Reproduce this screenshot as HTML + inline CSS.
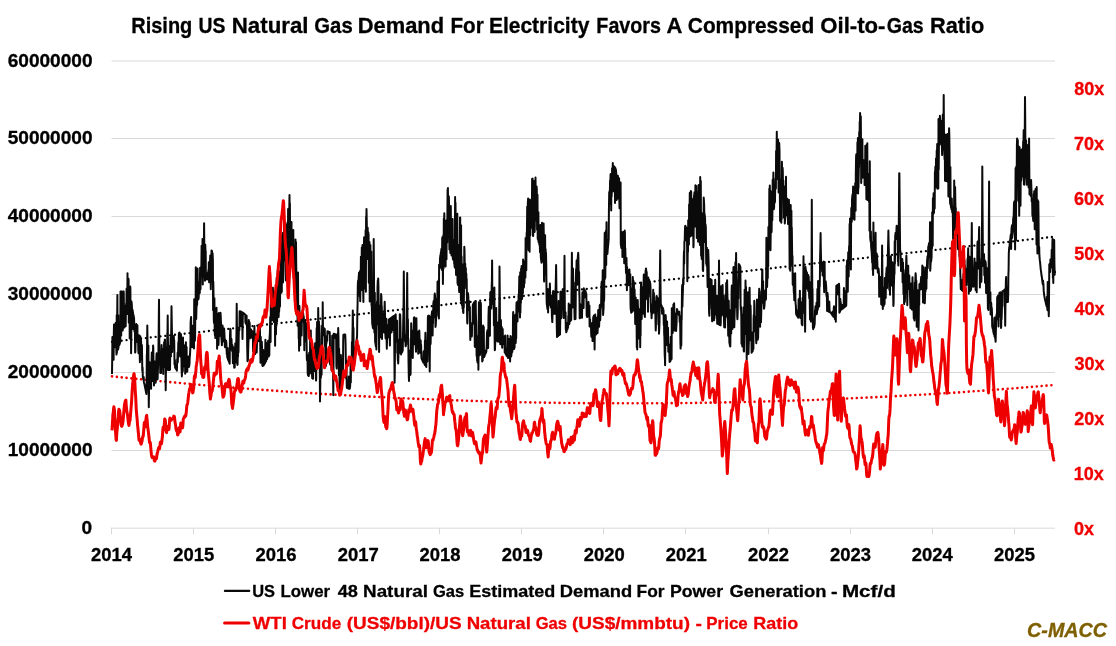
<!DOCTYPE html>
<html><head><meta charset="utf-8"><title>Chart</title>
<style>html,body{margin:0;padding:0;background:#fff}svg{display:block;will-change:transform}</style></head>
<body>
<svg width="1116" height="646" viewBox="0 0 1116 646">
<rect width="1116" height="646" fill="#fff"/>
<line x1="111.5" x2="1055.0" y1="61.0" y2="61.0" stroke="#D9D9D9" stroke-width="1"/>
<line x1="111.5" x2="1055.0" y1="138.5" y2="138.5" stroke="#D9D9D9" stroke-width="1"/>
<line x1="111.5" x2="1055.0" y1="216.5" y2="216.5" stroke="#D9D9D9" stroke-width="1"/>
<line x1="111.5" x2="1055.0" y1="294.5" y2="294.5" stroke="#D9D9D9" stroke-width="1"/>
<line x1="111.5" x2="1055.0" y1="372.5" y2="372.5" stroke="#D9D9D9" stroke-width="1"/>
<line x1="111.5" x2="1055.0" y1="450.5" y2="450.5" stroke="#D9D9D9" stroke-width="1"/>
<line x1="111.5" x2="1055.0" y1="528.2" y2="528.2" stroke="#D9D9D9" stroke-width="1"/>
<line x1="111.5" x2="111.5" y1="527.7" y2="534.3" stroke="#D9D9D9" stroke-width="1"/>
<line x1="193.5" x2="193.5" y1="527.7" y2="534.3" stroke="#D9D9D9" stroke-width="1"/>
<line x1="275.5" x2="275.5" y1="527.7" y2="534.3" stroke="#D9D9D9" stroke-width="1"/>
<line x1="357.5" x2="357.5" y1="527.7" y2="534.3" stroke="#D9D9D9" stroke-width="1"/>
<line x1="439.5" x2="439.5" y1="527.7" y2="534.3" stroke="#D9D9D9" stroke-width="1"/>
<line x1="521.5" x2="521.5" y1="527.7" y2="534.3" stroke="#D9D9D9" stroke-width="1"/>
<line x1="603.5" x2="603.5" y1="527.7" y2="534.3" stroke="#D9D9D9" stroke-width="1"/>
<line x1="685.5" x2="685.5" y1="527.7" y2="534.3" stroke="#D9D9D9" stroke-width="1"/>
<line x1="768.5" x2="768.5" y1="527.7" y2="534.3" stroke="#D9D9D9" stroke-width="1"/>
<line x1="850.5" x2="850.5" y1="527.7" y2="534.3" stroke="#D9D9D9" stroke-width="1"/>
<line x1="932.5" x2="932.5" y1="527.7" y2="534.3" stroke="#D9D9D9" stroke-width="1"/>
<line x1="1014.5" x2="1014.5" y1="527.7" y2="534.3" stroke="#D9D9D9" stroke-width="1"/>
<path d="M112.0 341.8 L118.0 341.1 L124.0 340.5 L130.0 339.8 L136.0 339.1 L142.0 338.5 L148.0 337.8 L154.0 337.1 L160.0 336.4 L166.0 335.8 L172.0 335.1 L178.0 334.4 L184.0 333.8 L190.0 333.1 L196.0 332.4 L202.0 331.8 L208.0 331.1 L214.0 330.4 L220.0 329.8 L226.0 329.1 L232.0 328.4 L238.0 327.8 L244.0 327.1 L250.0 326.4 L256.0 325.7 L262.0 325.1 L268.0 324.4 L274.0 323.7 L280.0 323.1 L286.0 322.4 L292.0 321.7 L298.0 321.1 L304.0 320.4 L310.0 319.7 L316.0 319.1 L322.0 318.4 L328.0 317.7 L334.0 317.0 L340.0 316.4 L346.0 315.7 L352.0 315.0 L358.0 314.4 L364.0 313.7 L370.0 313.0 L376.0 312.4 L382.0 311.7 L388.0 311.0 L394.0 310.4 L400.0 309.7 L406.0 309.0 L412.0 308.4 L418.0 307.7 L424.0 307.0 L430.0 306.3 L436.0 305.7 L442.0 305.0 L448.0 304.3 L454.0 303.7 L460.0 303.0 L466.0 302.3 L472.0 301.7 L478.0 301.0 L484.0 300.3 L490.0 299.7 L496.0 299.0 L502.0 298.3 L508.0 297.6 L514.0 297.0 L520.0 296.3 L526.0 295.6 L532.0 295.0 L538.0 294.3 L544.0 293.6 L550.0 293.0 L556.0 292.3 L562.0 291.6 L568.0 291.0 L574.0 290.3 L580.0 289.6 L586.0 288.9 L592.0 288.3 L598.0 287.6 L604.0 286.9 L610.0 286.3 L616.0 285.6 L622.0 284.9 L628.0 284.3 L634.0 283.6 L640.0 282.9 L646.0 282.3 L652.0 281.6 L658.0 280.9 L664.0 280.3 L670.0 279.6 L676.0 278.9 L682.0 278.2 L688.0 277.6 L694.0 276.9 L700.0 276.2 L706.0 275.6 L712.0 274.9 L718.0 274.2 L724.0 273.6 L730.0 272.9 L736.0 272.2 L742.0 271.6 L748.0 270.9 L754.0 270.2 L760.0 269.5 L766.0 268.9 L772.0 268.2 L778.0 267.5 L784.0 266.9 L790.0 266.2 L796.0 265.5 L802.0 264.9 L808.0 264.2 L814.0 263.5 L820.0 262.9 L826.0 262.2 L832.0 261.5 L838.0 260.9 L844.0 260.2 L850.0 259.5 L856.0 258.8 L862.0 258.2 L868.0 257.5 L874.0 256.8 L880.0 256.2 L886.0 255.5 L892.0 254.8 L898.0 254.2 L904.0 253.5 L910.0 252.8 L916.0 252.2 L922.0 251.5 L928.0 250.8 L934.0 250.1 L940.0 249.5 L946.0 248.8 L952.0 248.1 L958.0 247.5 L964.0 246.8 L970.0 246.1 L976.0 245.5 L982.0 244.8 L988.0 244.1 L994.0 243.5 L1000.0 242.8 L1006.0 242.1 L1012.0 241.4 L1018.0 240.8 L1024.0 240.1 L1030.0 239.4 L1036.0 238.8 L1042.0 238.1 L1048.0 237.4 L1054.0 236.8" fill="none" stroke="#000" stroke-width="2.3" stroke-linejoin="round" stroke-linecap="round" stroke-dasharray="0.01 4.865"/>
<path d="M112.0 376.4 L118.0 377.0 L124.0 377.6 L130.0 378.2 L136.0 378.8 L142.0 379.4 L148.0 380.0 L154.0 380.6 L160.0 381.2 L166.0 381.7 L172.0 382.3 L178.0 382.8 L184.0 383.4 L190.0 383.9 L196.0 384.5 L202.0 385.0 L208.0 385.5 L214.0 386.0 L220.0 386.5 L226.0 387.0 L232.0 387.5 L238.0 387.9 L244.0 388.4 L250.0 388.9 L256.0 389.3 L262.0 389.8 L268.0 390.2 L274.0 390.7 L280.0 391.1 L286.0 391.5 L292.0 391.9 L298.0 392.3 L304.0 392.7 L310.0 393.1 L316.0 393.5 L322.0 393.9 L328.0 394.2 L334.0 394.6 L340.0 394.9 L346.0 395.3 L352.0 395.6 L358.0 396.0 L364.0 396.3 L370.0 396.6 L376.0 396.9 L382.0 397.2 L388.0 397.5 L394.0 397.8 L400.0 398.1 L406.0 398.4 L412.0 398.6 L418.0 398.9 L424.0 399.1 L430.0 399.4 L436.0 399.6 L442.0 399.8 L448.0 400.1 L454.0 400.3 L460.0 400.5 L466.0 400.7 L472.0 400.9 L478.0 401.1 L484.0 401.2 L490.0 401.4 L496.0 401.6 L502.0 401.7 L508.0 401.9 L514.0 402.0 L520.0 402.2 L526.0 402.3 L532.0 402.4 L538.0 402.5 L544.0 402.6 L550.0 402.7 L556.0 402.8 L562.0 402.9 L568.0 403.0 L574.0 403.0 L580.0 403.1 L586.0 403.2 L592.0 403.2 L598.0 403.3 L604.0 403.3 L610.0 403.3 L616.0 403.3 L622.0 403.3 L628.0 403.3 L634.0 403.3 L640.0 403.3 L646.0 403.3 L652.0 403.3 L658.0 403.3 L664.0 403.2 L670.0 403.2 L676.0 403.1 L682.0 403.1 L688.0 403.0 L694.0 402.9 L700.0 402.8 L706.0 402.7 L712.0 402.6 L718.0 402.5 L724.0 402.4 L730.0 402.3 L736.0 402.2 L742.0 402.0 L748.0 401.9 L754.0 401.8 L760.0 401.6 L766.0 401.4 L772.0 401.3 L778.0 401.1 L784.0 400.9 L790.0 400.7 L796.0 400.5 L802.0 400.3 L808.0 400.1 L814.0 399.9 L820.0 399.6 L826.0 399.4 L832.0 399.2 L838.0 398.9 L844.0 398.6 L850.0 398.4 L856.0 398.1 L862.0 397.8 L868.0 397.5 L874.0 397.2 L880.0 396.9 L886.0 396.6 L892.0 396.3 L898.0 396.0 L904.0 395.7 L910.0 395.3 L916.0 395.0 L922.0 394.6 L928.0 394.3 L934.0 393.9 L940.0 393.5 L946.0 393.1 L952.0 392.8 L958.0 392.4 L964.0 392.0 L970.0 391.5 L976.0 391.1 L982.0 390.7 L988.0 390.3 L994.0 389.8 L1000.0 389.4 L1006.0 388.9 L1012.0 388.5 L1018.0 388.0 L1024.0 387.5 L1030.0 387.0 L1036.0 386.5 L1042.0 386.0 L1048.0 385.5 L1054.0 385.0" fill="none" stroke="#EE0000" stroke-width="2.6" stroke-linejoin="round" stroke-linecap="round" stroke-dasharray="0.01 4.865"/>
<path d="M112.0 373.9 L112.2 359.0 L112.4 337.0 L112.7 340.1 L112.9 347.4 L113.1 358.3 L113.3 342.6 L113.6 359.7 L113.8 334.4 L114.0 324.6 L114.2 347.5 L114.5 339.5 L114.7 332.3 L114.9 347.1 L115.1 334.9 L115.4 344.1 L115.6 323.1 L115.8 323.8 L116.0 333.3 L116.3 349.4 L116.5 354.6 L116.7 315.3 L116.9 353.1 L117.2 313.6 L117.4 294.9 L117.6 345.4 L117.8 345.8 L118.1 349.4 L118.3 315.2 L118.5 347.9 L118.7 330.4 L119.0 322.2 L119.2 333.0 L119.4 344.9 L119.6 344.1 L119.9 343.3 L120.1 342.5 L120.3 341.8 L120.5 291.6 L120.8 316.4 L121.0 291.6 L121.2 335.6 L121.4 312.1 L121.7 291.6 L121.9 327.1 L122.1 324.7 L122.3 310.3 L122.6 327.3 L122.8 330.4 L123.0 315.0 L123.2 291.6 L123.5 292.5 L123.7 291.6 L123.9 303.8 L124.1 317.6 L124.4 327.6 L124.6 314.5 L124.8 313.2 L125.0 306.2 L125.3 310.3 L125.5 311.5 L125.7 326.2 L125.9 309.7 L126.2 303.6 L126.4 308.4 L126.6 288.5 L126.8 290.8 L127.1 314.1 L127.3 299.4 L127.5 273.3 L127.7 300.7 L128.0 305.0 L128.2 284.5 L128.4 278.5 L128.6 279.4 L128.8 322.8 L129.1 303.4 L129.3 323.0 L129.5 297.2 L129.7 338.6 L130.0 308.9 L130.2 286.4 L130.4 288.9 L130.6 330.1 L130.9 312.6 L131.1 353.2 L131.3 338.7 L131.5 301.6 L131.8 304.1 L132.0 309.8 L132.2 313.7 L132.4 309.6 L132.7 310.7 L132.9 312.6 L133.1 313.0 L133.3 329.2 L133.6 315.2 L133.8 316.5 L134.0 317.5 L134.2 322.0 L134.5 331.5 L134.7 330.5 L134.9 326.0 L135.1 352.6 L135.4 351.8 L135.6 343.1 L135.8 332.9 L136.0 329.0 L136.3 324.1 L136.5 330.4 L136.7 337.7 L136.9 337.1 L137.2 325.0 L137.4 325.3 L137.6 342.3 L137.8 335.1 L138.1 337.7 L138.3 349.8 L138.5 353.3 L138.7 336.9 L139.0 335.2 L139.2 348.2 L139.4 337.9 L139.6 349.4 L139.9 362.3 L140.1 353.1 L140.3 336.2 L140.5 341.2 L140.8 338.0 L141.0 338.9 L141.2 346.8 L141.4 354.1 L141.7 359.7 L141.9 345.0 L142.1 355.4 L142.3 371.1 L142.6 367.5 L142.8 376.6 L143.0 377.7 L143.2 378.7 L143.5 379.8 L143.7 377.0 L143.9 381.9 L144.1 382.9 L144.4 384.0 L144.6 385.0 L144.8 386.1 L145.0 387.1 L145.2 388.2 L145.5 389.4 L145.7 390.5 L145.9 391.7 L146.1 392.9 L146.4 394.1 L146.6 389.7 L146.8 355.2 L147.0 353.4 L147.3 325.5 L147.5 339.4 L147.7 348.6 L147.9 381.1 L148.2 356.2 L148.4 345.6 L148.6 388.9 L148.8 407.3 L149.1 385.2 L149.3 372.3 L149.5 362.3 L149.7 377.2 L150.0 366.8 L150.2 388.5 L150.4 372.1 L150.6 381.8 L150.9 374.1 L151.1 388.7 L151.3 362.8 L151.5 362.0 L151.8 352.6 L152.0 368.4 L152.2 365.3 L152.4 381.0 L152.7 373.4 L152.9 357.2 L153.1 345.6 L153.3 347.9 L153.6 370.0 L153.8 377.8 L154.0 385.5 L154.2 381.9 L154.5 371.5 L154.7 361.4 L154.9 365.0 L155.1 361.7 L155.4 369.0 L155.6 382.7 L155.8 365.9 L156.0 369.8 L156.3 361.2 L156.5 354.8 L156.7 353.2 L156.9 369.5 L157.2 362.7 L157.4 379.5 L157.6 378.9 L157.8 373.0 L158.1 364.7 L158.3 364.1 L158.5 344.8 L158.7 328.7 L159.0 299.7 L159.2 332.4 L159.4 347.0 L159.6 362.6 L159.9 361.4 L160.1 364.8 L160.3 373.0 L160.5 370.3 L160.8 357.4 L161.0 373.1 L161.2 360.8 L161.4 355.1 L161.6 345.0 L161.9 356.0 L162.1 360.2 L162.3 365.5 L162.5 354.6 L162.8 349.1 L163.0 359.1 L163.2 374.1 L163.4 355.7 L163.7 367.3 L163.9 360.0 L164.1 342.2 L164.3 345.1 L164.6 350.5 L164.8 339.7 L165.0 339.6 L165.2 354.0 L165.5 368.8 L165.7 390.2 L165.9 374.2 L166.1 368.0 L166.4 348.1 L166.6 370.2 L166.8 352.0 L167.0 359.3 L167.3 332.9 L167.5 332.9 L167.7 315.5 L167.9 337.0 L168.2 358.1 L168.4 370.0 L168.6 370.0 L168.8 355.0 L169.1 355.8 L169.3 345.9 L169.5 353.6 L169.7 369.9 L170.0 369.8 L170.2 355.2 L170.4 348.4 L170.6 337.4 L170.9 356.4 L171.1 338.1 L171.3 324.9 L171.5 306.2 L171.8 324.1 L172.0 334.1 L172.2 351.9 L172.4 342.8 L172.7 343.5 L172.9 344.2 L173.1 340.0 L173.3 346.6 L173.6 339.7 L173.8 336.1 L174.0 341.2 L174.2 340.3 L174.5 364.5 L174.7 362.4 L174.9 360.0 L175.1 367.7 L175.4 367.8 L175.6 368.2 L175.8 368.6 L176.0 369.0 L176.3 367.8 L176.5 366.4 L176.7 370.2 L176.9 370.6 L177.2 359.1 L177.4 360.7 L177.6 352.8 L177.8 362.2 L178.0 356.5 L178.3 342.6 L178.5 342.7 L178.7 341.3 L178.9 333.1 L179.2 334.6 L179.4 346.3 L179.6 332.6 L179.8 347.4 L180.1 356.4 L180.3 344.6 L180.5 343.5 L180.7 355.7 L181.0 334.3 L181.2 344.8 L181.4 356.3 L181.6 368.8 L181.9 376.4 L182.1 363.3 L182.3 356.9 L182.5 362.6 L182.8 371.4 L183.0 337.4 L183.2 357.6 L183.4 344.8 L183.7 357.2 L183.9 348.0 L184.1 345.3 L184.3 359.7 L184.6 366.8 L184.8 349.8 L185.0 346.2 L185.2 373.7 L185.5 371.2 L185.7 355.3 L185.9 342.3 L186.1 356.4 L186.4 351.4 L186.6 347.1 L186.8 364.7 L187.0 371.8 L187.3 371.2 L187.5 360.3 L187.7 366.4 L187.9 366.4 L188.2 365.6 L188.4 356.6 L188.6 361.6 L188.8 367.0 L189.1 366.4 L189.3 365.2 L189.5 363.9 L189.7 357.5 L190.0 354.7 L190.2 350.4 L190.4 346.4 L190.6 322.5 L190.9 319.0 L191.1 316.9 L191.3 329.0 L191.5 328.7 L191.8 339.6 L192.0 346.5 L192.2 347.2 L192.4 325.8 L192.7 346.1 L192.9 334.7 L193.1 328.9 L193.3 326.0 L193.6 333.1 L193.8 332.4 L194.0 348.6 L194.2 299.2 L194.4 311.6 L194.7 307.8 L194.9 340.7 L195.1 337.1 L195.3 313.0 L195.6 310.0 L195.8 267.3 L196.0 284.6 L196.2 319.1 L196.5 306.9 L196.7 306.0 L196.9 291.1 L197.1 304.9 L197.4 284.6 L197.6 268.6 L197.8 285.1 L198.0 288.9 L198.3 299.6 L198.5 298.6 L198.7 297.5 L198.9 287.0 L199.2 281.9 L199.4 289.9 L199.6 293.3 L199.8 292.3 L200.1 267.8 L200.3 280.0 L200.5 289.2 L200.7 276.6 L201.0 272.7 L201.2 270.6 L201.4 263.9 L201.6 245.7 L201.9 261.8 L202.1 270.4 L202.3 265.1 L202.5 239.1 L202.8 284.4 L203.0 263.0 L203.2 277.2 L203.4 277.2 L203.7 241.1 L203.9 242.5 L204.1 223.2 L204.3 244.9 L204.6 250.1 L204.8 245.3 L205.0 280.7 L205.2 244.4 L205.5 250.7 L205.7 251.2 L205.9 279.4 L206.1 273.2 L206.4 278.7 L206.6 278.9 L206.8 279.0 L207.0 279.1 L207.3 279.2 L207.5 279.3 L207.7 279.4 L207.9 272.4 L208.2 279.6 L208.4 270.0 L208.6 278.4 L208.8 262.2 L209.1 282.3 L209.3 280.2 L209.5 269.0 L209.7 270.0 L210.0 263.2 L210.2 255.5 L210.4 264.9 L210.6 273.6 L210.8 289.2 L211.1 270.0 L211.3 262.8 L211.5 250.4 L211.7 250.7 L212.0 251.0 L212.2 282.0 L212.4 278.1 L212.6 253.3 L212.9 261.1 L213.1 310.3 L213.3 281.8 L213.5 292.8 L213.8 319.8 L214.0 322.9 L214.2 322.6 L214.4 298.2 L214.7 331.5 L214.9 335.2 L215.1 325.4 L215.3 337.9 L215.6 322.7 L215.8 310.3 L216.0 337.8 L216.2 332.7 L216.5 307.7 L216.7 323.1 L216.9 313.4 L217.1 348.7 L217.4 339.3 L217.6 327.6 L217.8 314.0 L218.0 319.4 L218.3 327.2 L218.5 345.0 L218.7 338.8 L218.9 313.1 L219.2 316.6 L219.4 336.3 L219.6 321.2 L219.8 318.2 L220.1 326.7 L220.3 327.0 L220.5 312.8 L220.7 315.6 L221.0 322.7 L221.2 327.1 L221.4 338.2 L221.6 340.5 L221.9 345.3 L222.1 339.8 L222.3 327.5 L222.5 325.5 L222.8 327.8 L223.0 339.8 L223.2 341.4 L223.4 339.6 L223.7 328.2 L223.9 338.1 L224.1 328.4 L224.3 331.5 L224.6 337.8 L224.8 345.3 L225.0 347.2 L225.2 339.5 L225.5 341.5 L225.7 345.1 L225.9 344.7 L226.1 340.7 L226.4 343.2 L226.6 350.5 L226.8 354.2 L227.0 352.2 L227.2 357.3 L227.5 357.9 L227.7 348.0 L227.9 359.1 L228.1 359.7 L228.4 360.2 L228.6 360.8 L228.8 361.4 L229.0 359.8 L229.3 362.6 L229.5 363.2 L229.7 363.7 L229.9 340.4 L230.2 328.7 L230.4 336.3 L230.6 329.4 L230.8 349.6 L231.1 340.9 L231.3 338.7 L231.5 339.3 L231.7 344.3 L232.0 347.5 L232.2 351.3 L232.4 345.1 L232.6 348.5 L232.9 363.2 L233.1 355.6 L233.3 352.7 L233.5 350.6 L233.8 347.5 L234.0 352.3 L234.2 367.7 L234.4 367.6 L234.7 367.4 L234.9 357.3 L235.1 361.1 L235.3 343.3 L235.6 344.8 L235.8 362.6 L236.0 359.1 L236.2 347.9 L236.5 330.1 L236.7 303.7 L236.9 321.7 L237.1 344.9 L237.4 364.9 L237.6 364.4 L237.8 348.2 L238.0 356.7 L238.3 346.3 L238.5 352.2 L238.7 338.1 L238.9 329.3 L239.2 330.6 L239.4 329.9 L239.6 311.2 L239.8 311.2 L240.1 311.3 L240.3 311.3 L240.5 317.8 L240.7 320.9 L241.0 326.1 L241.2 325.7 L241.4 316.8 L241.6 311.7 L241.9 313.6 L242.1 324.2 L242.3 324.4 L242.5 339.0 L242.8 316.3 L243.0 312.7 L243.2 312.9 L243.4 313.9 L243.6 313.2 L243.9 313.4 L244.1 313.6 L244.3 313.8 L244.5 314.0 L244.8 314.1 L245.0 314.3 L245.2 314.5 L245.4 322.6 L245.7 323.0 L245.9 323.7 L246.1 317.8 L246.3 316.8 L246.6 315.6 L246.8 325.5 L247.0 324.8 L247.2 346.8 L247.5 361.2 L247.7 344.1 L247.9 360.3 L248.1 353.8 L248.4 342.6 L248.6 339.5 L248.8 319.9 L249.0 325.9 L249.3 321.7 L249.5 322.6 L249.7 323.5 L249.9 338.3 L250.2 335.0 L250.4 333.1 L250.6 330.5 L250.8 337.5 L251.1 329.5 L251.3 332.2 L251.5 330.8 L251.7 334.0 L252.0 337.7 L252.2 332.4 L252.4 331.3 L252.6 337.5 L252.9 336.8 L253.1 351.4 L253.3 343.9 L253.5 338.2 L253.8 339.1 L254.0 331.6 L254.2 336.3 L254.4 326.0 L254.7 342.4 L254.9 348.2 L255.1 354.1 L255.3 346.7 L255.6 341.8 L255.8 339.8 L256.0 334.2 L256.2 348.6 L256.5 350.4 L256.7 352.4 L256.9 346.1 L257.1 339.7 L257.4 341.4 L257.6 335.1 L257.8 341.6 L258.0 340.8 L258.3 326.0 L258.5 336.0 L258.7 334.7 L258.9 324.8 L259.2 324.6 L259.4 330.8 L259.6 341.3 L259.8 324.4 L260.0 332.6 L260.3 349.2 L260.5 362.8 L260.7 336.7 L260.9 343.4 L261.2 344.8 L261.4 345.9 L261.6 343.0 L261.8 341.7 L262.1 349.2 L262.3 365.3 L262.5 365.6 L262.7 366.0 L263.0 356.3 L263.2 349.9 L263.4 352.8 L263.6 365.4 L263.9 360.4 L264.1 364.6 L264.3 364.2 L264.5 358.3 L264.8 363.4 L265.0 363.1 L265.2 349.9 L265.4 339.8 L265.7 351.0 L265.9 361.5 L266.1 361.1 L266.3 358.8 L266.6 343.4 L266.8 346.5 L267.0 348.6 L267.2 359.1 L267.5 342.9 L267.7 352.8 L267.9 354.3 L268.1 340.8 L268.4 353.2 L268.6 356.6 L268.8 356.2 L269.0 355.7 L269.3 355.3 L269.5 339.0 L269.7 335.5 L269.9 333.4 L270.2 317.1 L270.4 327.6 L270.6 341.9 L270.8 300.2 L271.1 295.8 L271.3 294.8 L271.5 303.8 L271.7 304.5 L272.0 320.3 L272.2 290.8 L272.4 289.8 L272.6 288.8 L272.9 287.8 L273.1 298.0 L273.3 310.3 L273.5 305.2 L273.8 321.9 L274.0 308.9 L274.2 321.9 L274.4 315.6 L274.7 322.7 L274.9 311.5 L275.1 345.8 L275.3 301.4 L275.6 311.6 L275.8 319.7 L276.0 334.3 L276.2 312.5 L276.4 326.0 L276.7 277.6 L276.9 300.0 L277.1 321.6 L277.3 297.0 L277.6 274.1 L277.8 270.1 L278.0 273.8 L278.2 294.4 L278.5 317.1 L278.7 315.4 L278.9 271.5 L279.1 312.0 L279.4 303.6 L279.6 284.9 L279.8 307.0 L280.0 305.3 L280.3 275.7 L280.5 274.9 L280.7 268.1 L280.9 245.1 L281.2 277.2 L281.4 292.7 L281.6 272.6 L281.8 291.8 L282.1 235.6 L282.3 255.6 L282.5 258.9 L282.7 233.1 L283.0 282.4 L283.2 276.6 L283.4 267.9 L283.6 252.6 L283.9 255.7 L284.1 218.4 L284.3 244.1 L284.5 250.6 L284.8 260.5 L285.0 236.4 L285.2 235.1 L285.4 240.4 L285.7 262.3 L285.9 280.5 L286.1 258.0 L286.3 279.6 L286.6 232.6 L286.8 236.3 L287.0 224.6 L287.2 224.1 L287.5 222.6 L287.7 269.0 L287.9 243.4 L288.1 209.0 L288.4 230.4 L288.6 217.9 L288.8 264.8 L289.0 247.6 L289.3 207.9 L289.5 195.1 L289.7 210.8 L289.9 203.4 L290.2 258.8 L290.4 245.3 L290.6 240.1 L290.8 263.1 L291.1 230.0 L291.3 239.5 L291.5 222.0 L291.7 257.7 L292.0 248.0 L292.2 264.1 L292.4 264.1 L292.6 263.9 L292.8 256.0 L293.1 246.8 L293.3 229.9 L293.5 265.4 L293.7 278.5 L294.0 258.1 L294.2 254.8 L294.4 266.6 L294.6 246.2 L294.9 293.8 L295.1 260.2 L295.3 268.8 L295.5 239.6 L295.8 266.4 L296.0 242.2 L296.2 263.3 L296.4 275.9 L296.7 278.0 L296.9 310.9 L297.1 315.8 L297.3 295.6 L297.6 325.7 L297.8 288.7 L298.0 272.4 L298.2 309.1 L298.5 313.1 L298.7 338.6 L298.9 337.0 L299.1 350.7 L299.4 305.9 L299.6 313.8 L299.8 317.3 L300.0 332.9 L300.3 345.2 L300.5 324.5 L300.7 324.4 L300.9 330.8 L301.2 324.6 L301.4 321.4 L301.6 335.5 L301.8 323.3 L302.1 315.1 L302.3 321.2 L302.5 317.9 L302.7 311.3 L303.0 312.5 L303.2 313.7 L303.4 317.5 L303.6 316.1 L303.9 318.6 L304.1 324.2 L304.3 350.2 L304.5 328.7 L304.8 341.3 L305.0 341.3 L305.2 321.7 L305.4 322.0 L305.7 322.4 L305.9 322.8 L306.1 323.1 L306.3 323.5 L306.6 342.7 L306.8 357.9 L307.0 360.3 L307.2 355.0 L307.5 355.1 L307.7 373.5 L307.9 374.4 L308.1 375.5 L308.4 375.7 L308.6 374.8 L308.8 376.0 L309.0 359.8 L309.2 352.7 L309.5 361.5 L309.7 371.6 L309.9 373.6 L310.1 343.0 L310.4 334.3 L310.6 332.5 L310.8 330.4 L311.0 347.1 L311.3 359.9 L311.5 369.8 L311.7 358.4 L311.9 373.0 L312.2 378.2 L312.4 370.6 L312.6 348.8 L312.8 378.7 L313.1 378.8 L313.3 350.7 L313.5 359.0 L313.7 367.5 L314.0 352.1 L314.2 348.0 L314.4 371.0 L314.6 370.2 L314.9 361.0 L315.1 343.2 L315.3 350.3 L315.5 344.4 L315.8 349.1 L316.0 380.6 L316.2 378.8 L316.4 347.7 L316.7 328.0 L316.9 342.2 L317.1 322.0 L317.3 336.9 L317.6 361.2 L317.8 355.2 L318.0 338.3 L318.2 307.9 L318.5 332.1 L318.7 325.2 L318.9 321.4 L319.1 327.5 L319.4 325.6 L319.6 333.4 L319.8 371.0 L320.0 401.5 L320.3 384.1 L320.5 361.4 L320.7 357.5 L320.9 377.7 L321.2 346.9 L321.4 352.9 L321.6 374.8 L321.8 341.5 L322.1 325.5 L322.3 345.3 L322.5 335.2 L322.7 302.2 L323.0 329.4 L323.2 331.8 L323.4 333.1 L323.6 335.3 L323.9 328.4 L324.1 328.2 L324.3 328.5 L324.5 328.8 L324.8 329.1 L325.0 346.2 L325.2 336.0 L325.4 354.0 L325.6 353.3 L325.9 366.1 L326.1 346.5 L326.3 340.6 L326.5 343.1 L326.8 336.3 L327.0 336.8 L327.2 340.7 L327.4 331.2 L327.7 334.0 L327.9 331.4 L328.1 331.5 L328.3 331.5 L328.6 331.6 L328.8 331.7 L329.0 331.8 L329.2 331.9 L329.5 332.0 L329.7 332.1 L329.9 336.3 L330.1 364.4 L330.4 361.4 L330.6 362.8 L330.8 359.0 L331.0 353.1 L331.3 362.5 L331.5 368.7 L331.7 370.4 L331.9 361.9 L332.2 335.7 L332.4 338.6 L332.6 335.8 L332.8 344.2 L333.1 373.7 L333.3 395.3 L333.5 364.4 L333.7 333.7 L334.0 333.8 L334.2 333.9 L334.4 334.0 L334.6 335.8 L334.9 338.0 L335.1 334.2 L335.3 334.3 L335.5 334.4 L335.8 334.5 L336.0 334.6 L336.2 340.7 L336.4 366.0 L336.7 368.4 L336.9 355.2 L337.1 354.1 L337.3 351.2 L337.6 339.5 L337.8 333.5 L338.0 339.0 L338.2 328.0 L338.5 338.6 L338.7 355.9 L338.9 375.2 L339.1 348.7 L339.4 368.7 L339.6 388.7 L339.8 389.1 L340.0 363.0 L340.3 356.2 L340.5 379.9 L340.7 360.4 L340.9 354.9 L341.2 382.2 L341.4 388.0 L341.6 370.1 L341.8 374.5 L342.0 359.1 L342.3 360.6 L342.5 365.1 L342.7 362.9 L342.9 376.4 L343.2 340.8 L343.4 334.7 L343.6 334.7 L343.8 334.6 L344.1 334.6 L344.3 334.6 L344.5 334.5 L344.7 334.5 L345.0 334.4 L345.2 334.4 L345.4 338.4 L345.6 345.1 L345.9 368.1 L346.1 378.6 L346.3 360.6 L346.5 371.5 L346.8 387.8 L347.0 380.6 L347.2 388.0 L347.4 388.1 L347.7 388.2 L347.9 388.3 L348.1 388.4 L348.3 388.5 L348.6 388.6 L348.8 376.6 L349.0 388.7 L349.2 388.8 L349.5 388.9 L349.7 388.7 L349.9 387.8 L350.1 386.9 L350.4 378.1 L350.6 363.3 L350.8 382.4 L351.0 364.8 L351.3 356.4 L351.5 356.9 L351.7 368.0 L351.9 342.2 L352.2 364.0 L352.4 336.7 L352.6 326.7 L352.8 310.5 L353.1 328.9 L353.3 333.3 L353.5 327.9 L353.7 363.5 L354.0 358.8 L354.2 360.8 L354.4 362.2 L354.6 358.2 L354.9 357.1 L355.1 354.5 L355.3 351.9 L355.5 349.3 L355.8 346.7 L356.0 344.5 L356.2 342.9 L356.4 341.4 L356.7 339.8 L356.9 338.2 L357.1 334.6 L357.3 315.5 L357.6 303.7 L357.8 285.6 L358.0 281.8 L358.2 280.3 L358.4 289.0 L358.7 276.6 L358.9 274.5 L359.1 272.4 L359.3 285.5 L359.6 291.5 L359.8 296.6 L360.0 271.1 L360.2 301.2 L360.5 284.8 L360.7 278.4 L360.9 256.7 L361.1 278.7 L361.4 269.9 L361.6 266.6 L361.8 247.5 L362.0 253.3 L362.3 290.3 L362.5 244.9 L362.7 250.7 L362.9 269.1 L363.2 290.1 L363.4 302.0 L363.6 254.5 L363.8 253.8 L364.1 237.2 L364.3 255.0 L364.5 288.5 L364.7 288.3 L365.0 286.1 L365.2 252.8 L365.4 251.9 L365.6 230.3 L365.9 291.8 L366.1 216.7 L366.3 225.2 L366.5 208.9 L366.8 223.8 L367.0 242.3 L367.2 259.0 L367.4 256.0 L367.7 227.7 L367.9 255.7 L368.1 233.9 L368.3 232.3 L368.6 234.8 L368.8 282.8 L369.0 248.9 L369.2 247.9 L369.5 242.0 L369.7 301.5 L369.9 295.2 L370.1 286.5 L370.4 245.1 L370.6 278.5 L370.8 253.5 L371.0 300.4 L371.3 251.5 L371.5 305.6 L371.7 304.5 L371.9 310.9 L372.2 323.6 L372.4 324.5 L372.6 325.6 L372.8 327.0 L373.1 328.4 L373.3 299.3 L373.5 268.1 L373.7 239.0 L374.0 276.1 L374.2 311.4 L374.4 332.5 L374.6 331.3 L374.8 292.7 L375.1 341.1 L375.3 342.5 L375.5 343.9 L375.7 345.3 L376.0 346.7 L376.2 328.1 L376.4 349.5 L376.6 322.3 L376.9 303.5 L377.1 301.3 L377.3 324.3 L377.5 287.9 L377.8 280.2 L378.0 290.6 L378.2 278.6 L378.4 284.8 L378.7 303.8 L378.9 327.8 L379.1 352.0 L379.3 319.8 L379.6 305.4 L379.8 330.9 L380.0 306.5 L380.2 321.4 L380.5 332.1 L380.7 337.3 L380.9 314.0 L381.1 294.0 L381.4 296.4 L381.6 306.5 L381.8 306.3 L382.0 339.1 L382.3 324.7 L382.5 313.2 L382.7 318.2 L382.9 314.9 L383.2 326.5 L383.4 314.0 L383.6 317.0 L383.8 315.3 L384.1 332.5 L384.3 324.0 L384.5 309.3 L384.7 301.7 L385.0 314.0 L385.2 325.7 L385.4 335.3 L385.6 338.5 L385.9 333.5 L386.1 325.1 L386.3 318.7 L386.5 334.6 L386.8 348.8 L387.0 341.7 L387.2 338.7 L387.4 337.9 L387.7 331.9 L387.9 329.4 L388.1 325.1 L388.3 325.3 L388.6 337.3 L388.8 319.6 L389.0 325.3 L389.2 325.3 L389.5 319.1 L389.7 321.9 L389.9 345.4 L390.1 331.3 L390.4 318.5 L390.6 318.3 L390.8 318.1 L391.0 318.0 L391.2 323.1 L391.5 332.4 L391.7 321.0 L391.9 317.3 L392.1 319.0 L392.4 330.1 L392.6 316.8 L392.8 316.6 L393.0 317.2 L393.3 330.2 L393.5 320.7 L393.7 315.9 L393.9 316.5 L394.2 332.5 L394.4 359.1 L394.6 382.8 L394.8 371.3 L395.1 334.9 L395.3 314.8 L395.5 314.6 L395.7 314.4 L396.0 330.0 L396.2 341.5 L396.4 327.9 L396.6 336.8 L396.9 335.3 L397.1 320.7 L397.3 353.0 L397.5 346.3 L397.8 360.2 L398.0 360.1 L398.2 363.5 L398.4 356.3 L398.7 339.4 L398.9 353.7 L399.1 345.8 L399.3 341.0 L399.6 339.2 L399.8 314.3 L400.0 321.3 L400.2 314.6 L400.5 326.2 L400.7 340.4 L400.9 352.2 L401.1 354.5 L401.4 339.3 L401.6 345.7 L401.8 352.8 L402.0 352.2 L402.3 351.7 L402.5 351.1 L402.7 350.5 L402.9 341.4 L403.2 322.8 L403.4 314.3 L403.6 301.1 L403.8 271.6 L404.1 302.2 L404.3 328.8 L404.5 338.4 L404.7 334.8 L405.0 341.4 L405.2 336.9 L405.4 339.9 L405.6 346.3 L405.9 345.6 L406.1 339.6 L406.3 338.8 L406.5 340.0 L406.8 316.5 L407.0 294.4 L407.2 272.9 L407.4 305.3 L407.6 333.3 L407.9 319.3 L408.1 344.8 L408.3 338.6 L408.5 360.6 L408.8 376.5 L409.0 381.0 L409.2 367.6 L409.4 350.7 L409.7 373.8 L409.9 357.6 L410.1 359.3 L410.3 374.9 L410.6 374.0 L410.8 353.0 L411.0 343.6 L411.2 323.2 L411.5 331.0 L411.7 337.2 L411.9 331.2 L412.1 334.8 L412.4 337.9 L412.6 345.8 L412.8 358.1 L413.0 338.4 L413.3 330.4 L413.5 339.3 L413.7 344.5 L413.9 317.7 L414.2 317.5 L414.4 317.4 L414.6 317.7 L414.8 328.8 L415.1 332.2 L415.3 334.2 L415.5 339.7 L415.7 345.9 L416.0 351.7 L416.2 335.7 L416.4 318.2 L416.6 333.9 L416.9 348.0 L417.1 344.8 L417.3 341.0 L417.5 342.6 L417.8 334.9 L418.0 331.8 L418.2 353.7 L418.4 353.4 L418.7 346.9 L418.9 347.9 L419.1 344.8 L419.3 330.6 L419.6 339.6 L419.8 346.3 L420.0 352.5 L420.2 346.8 L420.5 351.2 L420.7 340.6 L420.9 353.6 L421.1 344.7 L421.4 357.1 L421.6 358.6 L421.8 359.1 L422.0 359.4 L422.3 360.1 L422.5 360.6 L422.7 361.2 L422.9 361.7 L423.2 362.2 L423.4 362.7 L423.6 351.7 L423.8 351.9 L424.0 355.6 L424.3 350.4 L424.5 362.2 L424.7 365.0 L424.9 340.7 L425.2 343.0 L425.4 332.8 L425.6 345.6 L425.8 363.8 L426.1 366.7 L426.3 367.0 L426.5 347.1 L426.7 340.5 L427.0 357.0 L427.2 358.5 L427.4 361.5 L427.6 343.7 L427.9 317.3 L428.1 315.8 L428.3 316.8 L428.5 333.2 L428.8 315.8 L429.0 315.7 L429.2 315.7 L429.4 343.6 L429.7 371.5 L429.9 347.1 L430.1 332.5 L430.3 336.8 L430.6 344.0 L430.8 334.3 L431.0 318.0 L431.2 316.3 L431.5 315.5 L431.7 314.1 L431.9 312.6 L432.1 311.2 L432.4 326.3 L432.6 335.5 L432.8 322.7 L433.0 323.5 L433.3 303.8 L433.5 302.4 L433.7 300.9 L433.9 312.9 L434.2 317.2 L434.4 300.3 L434.6 295.0 L434.8 293.6 L435.1 296.9 L435.3 314.3 L435.5 326.9 L435.7 325.7 L436.0 320.6 L436.2 310.8 L436.4 316.3 L436.6 314.3 L436.9 300.7 L437.1 298.5 L437.3 308.3 L437.5 281.7 L437.8 289.8 L438.0 283.7 L438.2 299.9 L438.4 280.5 L438.7 315.6 L438.9 318.5 L439.1 264.7 L439.3 266.0 L439.6 264.7 L439.8 266.8 L440.0 258.4 L440.2 256.8 L440.4 255.2 L440.7 254.8 L440.9 252.1 L441.1 268.0 L441.3 248.9 L441.6 269.1 L441.8 253.3 L442.0 270.0 L442.2 238.5 L442.5 236.9 L442.7 246.0 L442.9 283.9 L443.1 265.3 L443.4 234.9 L443.6 268.2 L443.8 218.8 L444.0 231.5 L444.3 213.2 L444.5 247.8 L444.7 229.0 L444.9 240.6 L445.2 251.6 L445.4 256.3 L445.6 266.5 L445.8 222.9 L446.1 226.3 L446.3 220.5 L446.5 259.2 L446.7 224.8 L447.0 230.3 L447.2 242.4 L447.4 212.0 L447.6 189.9 L447.9 188.1 L448.1 206.3 L448.3 216.5 L448.5 203.3 L448.8 196.3 L449.0 201.1 L449.2 234.4 L449.4 249.5 L449.7 247.5 L449.9 239.9 L450.1 215.4 L450.3 252.9 L450.6 224.6 L450.8 205.9 L451.0 240.9 L451.2 218.7 L451.5 255.6 L451.7 234.0 L451.9 242.6 L452.1 219.0 L452.4 223.5 L452.6 218.9 L452.8 258.7 L453.0 259.2 L453.3 259.8 L453.5 254.6 L453.7 243.3 L453.9 240.3 L454.2 263.9 L454.4 262.5 L454.6 266.4 L454.8 267.6 L455.1 197.0 L455.3 223.7 L455.5 202.8 L455.7 229.5 L456.0 273.8 L456.2 275.0 L456.4 219.1 L456.6 228.7 L456.8 217.1 L457.1 241.1 L457.3 213.8 L457.5 282.4 L457.7 283.7 L458.0 284.9 L458.2 245.9 L458.4 262.2 L458.6 244.9 L458.9 260.0 L459.1 290.9 L459.3 292.1 L459.5 257.6 L459.8 250.0 L460.0 217.6 L460.2 217.5 L460.4 265.2 L460.7 259.3 L460.9 300.3 L461.1 225.3 L461.3 302.6 L461.6 256.5 L461.8 304.9 L462.0 292.6 L462.2 272.4 L462.5 308.4 L462.7 264.4 L462.9 265.2 L463.1 312.0 L463.4 313.1 L463.6 277.2 L463.8 307.5 L464.0 286.9 L464.3 246.7 L464.5 250.1 L464.7 263.2 L464.9 265.3 L465.2 263.7 L465.4 277.6 L465.6 276.2 L465.8 267.9 L466.1 288.2 L466.3 273.5 L466.5 282.4 L466.7 279.1 L467.0 308.4 L467.2 322.4 L467.4 323.5 L467.6 314.9 L467.9 293.1 L468.1 294.6 L468.3 296.2 L468.5 308.5 L468.8 310.0 L469.0 300.9 L469.2 305.8 L469.4 310.3 L469.7 307.6 L469.9 307.2 L470.1 329.8 L470.3 340.0 L470.6 325.5 L470.8 332.7 L471.0 335.4 L471.2 330.5 L471.5 325.4 L471.7 332.0 L471.9 336.4 L472.1 322.7 L472.4 324.4 L472.6 323.8 L472.8 305.1 L473.0 304.6 L473.2 304.1 L473.5 303.6 L473.7 313.7 L473.9 302.6 L474.1 304.4 L474.4 306.1 L474.6 325.0 L474.8 346.4 L475.0 347.0 L475.3 335.2 L475.5 305.5 L475.7 300.9 L475.9 315.9 L476.2 322.0 L476.4 336.5 L476.6 355.9 L476.8 336.1 L477.1 360.8 L477.3 342.2 L477.5 362.4 L477.7 339.4 L478.0 356.7 L478.2 346.3 L478.4 369.7 L478.6 349.4 L478.9 302.3 L479.1 331.1 L479.3 321.7 L479.5 343.9 L479.8 355.2 L480.0 354.6 L480.2 319.8 L480.4 330.6 L480.7 302.7 L480.9 304.5 L481.1 352.6 L481.3 345.7 L481.6 326.8 L481.8 343.9 L482.0 343.8 L482.2 361.6 L482.5 336.4 L482.7 360.6 L482.9 334.9 L483.1 325.6 L483.4 337.3 L483.6 347.8 L483.8 326.9 L484.0 357.3 L484.3 356.8 L484.5 356.2 L484.7 355.6 L484.9 350.5 L485.2 350.8 L485.4 354.0 L485.6 353.4 L485.8 352.8 L486.1 352.3 L486.3 351.7 L486.5 349.3 L486.7 344.2 L487.0 332.3 L487.2 333.6 L487.4 330.3 L487.6 340.0 L487.9 332.0 L488.1 347.9 L488.3 334.0 L488.5 315.5 L488.8 306.7 L489.0 330.0 L489.2 309.3 L489.4 323.1 L489.6 313.0 L489.9 335.8 L490.1 306.0 L490.3 292.3 L490.5 298.7 L490.8 291.7 L491.0 296.3 L491.2 306.6 L491.4 308.4 L491.7 285.3 L491.9 281.2 L492.1 260.4 L492.3 289.7 L492.6 288.2 L492.8 289.0 L493.0 293.6 L493.2 288.4 L493.5 304.7 L493.7 298.4 L493.9 325.3 L494.1 305.3 L494.4 287.4 L494.6 336.3 L494.8 350.3 L495.0 349.6 L495.3 341.2 L495.5 340.9 L495.7 317.4 L495.9 334.0 L496.2 308.0 L496.4 333.1 L496.6 326.5 L496.8 340.0 L497.1 336.9 L497.3 340.7 L497.5 341.5 L497.7 340.8 L498.0 322.4 L498.2 339.6 L498.4 340.9 L498.6 341.3 L498.9 341.7 L499.1 323.3 L499.3 300.8 L499.5 266.6 L499.8 294.5 L500.0 324.5 L500.2 344.2 L500.4 325.5 L500.7 325.1 L500.9 320.0 L501.1 330.9 L501.3 337.2 L501.6 330.5 L501.8 327.1 L502.0 343.2 L502.2 347.8 L502.5 332.3 L502.7 329.0 L502.9 340.0 L503.1 344.0 L503.4 342.5 L503.6 340.8 L503.8 336.6 L504.0 340.9 L504.3 343.6 L504.5 341.1 L504.7 352.2 L504.9 352.6 L505.2 335.6 L505.4 353.4 L505.6 348.6 L505.8 354.2 L506.0 354.6 L506.3 355.0 L506.5 355.4 L506.7 355.7 L506.9 356.1 L507.2 356.5 L507.4 351.9 L507.6 335.5 L507.8 349.7 L508.1 358.1 L508.3 348.8 L508.5 346.9 L508.7 350.3 L509.0 339.1 L509.2 349.0 L509.4 345.5 L509.6 348.2 L509.9 352.2 L510.1 361.4 L510.3 344.6 L510.5 336.1 L510.8 336.5 L511.0 353.1 L511.2 356.5 L511.4 354.6 L511.7 352.4 L511.9 340.4 L512.1 341.2 L512.3 352.0 L512.6 348.4 L512.8 346.9 L513.0 317.5 L513.2 312.0 L513.5 335.2 L513.7 323.9 L513.9 331.0 L514.1 349.0 L514.4 346.5 L514.6 347.4 L514.8 334.9 L515.0 320.5 L515.3 314.8 L515.5 317.3 L515.7 343.0 L515.9 338.1 L516.2 338.3 L516.4 305.8 L516.6 302.3 L516.8 317.3 L517.1 313.7 L517.3 321.6 L517.5 321.4 L517.7 309.0 L518.0 303.1 L518.2 300.7 L518.4 311.4 L518.6 294.4 L518.9 296.4 L519.1 286.9 L519.3 276.3 L519.5 297.6 L519.8 276.1 L520.0 317.5 L520.2 272.3 L520.4 312.7 L520.7 292.5 L520.9 303.0 L521.1 268.8 L521.3 282.9 L521.6 266.0 L521.8 297.4 L522.0 299.0 L522.2 297.6 L522.4 270.8 L522.7 289.9 L522.9 293.3 L523.1 259.6 L523.3 285.9 L523.6 285.7 L523.8 287.5 L524.0 286.1 L524.2 261.5 L524.5 283.2 L524.7 273.0 L524.9 265.5 L525.1 275.9 L525.4 277.5 L525.6 237.9 L525.8 250.7 L526.0 245.1 L526.3 270.3 L526.5 238.6 L526.7 232.5 L526.9 235.8 L527.2 206.8 L527.4 212.2 L527.6 220.1 L527.8 204.0 L528.1 198.5 L528.3 232.3 L528.5 250.1 L528.7 229.2 L529.0 247.6 L529.2 238.6 L529.4 238.9 L529.6 251.8 L529.9 199.5 L530.1 225.6 L530.3 235.3 L530.5 224.8 L530.8 200.6 L531.0 207.9 L531.2 227.8 L531.4 212.1 L531.7 212.6 L531.9 214.6 L532.1 178.9 L532.3 178.7 L532.6 178.6 L532.8 221.6 L533.0 236.1 L533.2 235.5 L533.5 183.1 L533.7 199.5 L533.9 196.2 L534.1 181.0 L534.4 181.6 L534.6 232.0 L534.8 225.9 L535.0 185.0 L535.3 206.3 L535.5 177.4 L535.7 192.2 L535.9 205.5 L536.2 220.5 L536.4 199.0 L536.6 186.5 L536.8 189.3 L537.1 229.7 L537.3 200.3 L537.5 194.7 L537.7 238.2 L538.0 239.7 L538.2 221.9 L538.4 212.2 L538.6 242.3 L538.8 225.2 L539.1 235.0 L539.3 244.8 L539.5 237.7 L539.7 239.2 L540.0 252.3 L540.2 243.6 L540.4 225.0 L540.6 249.7 L540.9 258.2 L541.1 259.7 L541.3 261.2 L541.5 262.7 L541.8 246.1 L542.0 222.8 L542.2 234.7 L542.4 241.0 L542.7 261.6 L542.9 248.0 L543.1 224.7 L543.3 248.2 L543.6 223.4 L543.8 235.3 L544.0 279.6 L544.2 281.6 L544.5 243.6 L544.7 245.0 L544.9 239.8 L545.1 235.3 L545.4 274.6 L545.6 249.1 L545.8 256.4 L546.0 252.8 L546.3 266.7 L546.5 291.3 L546.7 303.0 L546.9 304.9 L547.2 306.9 L547.4 308.8 L547.6 300.7 L547.8 289.0 L548.1 312.6 L548.3 294.9 L548.5 303.0 L548.7 304.9 L549.0 304.9 L549.2 303.7 L549.4 296.8 L549.6 295.2 L549.9 283.5 L550.1 293.0 L550.3 303.6 L550.5 303.3 L550.8 307.5 L551.0 303.9 L551.2 295.5 L551.4 302.0 L551.7 303.7 L551.9 315.9 L552.1 319.5 L552.3 322.1 L552.6 311.7 L552.8 307.5 L553.0 293.8 L553.2 290.9 L553.5 300.0 L553.7 313.8 L553.9 308.2 L554.1 304.8 L554.4 297.6 L554.6 291.4 L554.8 295.3 L555.0 313.8 L555.2 296.7 L555.5 291.7 L555.7 285.0 L555.9 277.0 L556.1 264.9 L556.4 288.0 L556.6 314.8 L556.8 327.1 L557.0 336.9 L557.3 336.7 L557.5 336.4 L557.7 336.3 L557.9 314.8 L558.2 336.0 L558.4 325.9 L558.6 301.1 L558.8 320.9 L559.1 323.5 L559.3 335.0 L559.5 334.8 L559.7 334.6 L560.0 334.4 L560.2 321.5 L560.4 291.8 L560.6 291.6 L560.9 296.8 L561.1 305.3 L561.3 318.2 L561.5 304.6 L561.8 309.0 L562.0 305.5 L562.2 307.4 L562.4 295.8 L562.7 289.3 L562.9 289.0 L563.1 293.9 L563.3 304.7 L563.6 316.5 L563.8 317.9 L564.0 309.8 L564.2 290.9 L564.5 255.8 L564.7 290.9 L564.9 313.4 L565.1 313.4 L565.4 315.2 L565.6 312.2 L565.8 329.2 L566.0 329.9 L566.3 332.3 L566.5 331.6 L566.7 331.0 L566.9 323.1 L567.2 329.8 L567.4 329.2 L567.6 328.6 L567.8 327.9 L568.1 326.9 L568.3 315.8 L568.5 319.1 L568.7 303.6 L569.0 313.6 L569.2 324.2 L569.4 323.6 L569.6 304.8 L569.9 305.5 L570.1 310.9 L570.3 321.1 L570.5 320.5 L570.8 320.0 L571.0 320.0 L571.2 319.9 L571.4 303.1 L571.6 283.0 L571.9 252.8 L572.1 279.7 L572.3 303.0 L572.5 307.6 L572.8 280.3 L573.0 268.5 L573.2 284.3 L573.4 295.2 L573.7 282.6 L573.9 296.7 L574.1 289.9 L574.3 305.1 L574.6 319.3 L574.8 319.2 L575.0 319.2 L575.2 319.1 L575.5 319.1 L575.7 304.2 L575.9 277.6 L576.1 269.0 L576.4 272.1 L576.6 260.4 L576.8 263.3 L577.0 269.0 L577.3 284.7 L577.5 266.0 L577.7 258.5 L577.9 256.2 L578.2 252.8 L578.4 256.7 L578.6 270.5 L578.8 281.8 L579.1 271.9 L579.3 292.5 L579.5 297.9 L579.7 318.2 L580.0 318.2 L580.2 304.0 L580.4 305.7 L580.6 305.5 L580.9 314.0 L581.1 309.0 L581.3 308.5 L581.5 306.3 L581.8 317.8 L582.0 317.8 L582.2 304.5 L582.4 292.3 L582.7 298.5 L582.9 301.6 L583.1 294.9 L583.3 304.7 L583.6 308.1 L583.8 288.2 L584.0 289.6 L584.2 290.5 L584.5 293.1 L584.7 297.6 L584.9 296.3 L585.1 290.3 L585.4 290.8 L585.6 291.6 L585.8 292.4 L586.0 293.2 L586.3 294.0 L586.5 301.1 L586.7 316.0 L586.9 314.4 L587.2 317.1 L587.4 303.0 L587.6 316.8 L587.8 305.5 L588.0 304.4 L588.3 303.0 L588.5 301.9 L588.7 310.4 L588.9 305.6 L589.2 312.2 L589.4 305.6 L589.6 326.6 L589.8 324.4 L590.1 319.3 L590.3 324.6 L590.5 326.1 L590.7 326.5 L591.0 325.8 L591.2 333.9 L591.4 336.8 L591.6 328.2 L591.9 329.7 L592.1 324.9 L592.3 322.8 L592.5 341.1 L592.8 331.8 L593.0 326.5 L593.2 317.3 L593.4 318.0 L593.7 316.1 L593.9 315.5 L594.1 323.1 L594.3 332.4 L594.6 349.6 L594.8 332.4 L595.0 323.1 L595.2 314.5 L595.5 320.8 L595.7 334.1 L595.9 334.6 L596.1 329.0 L596.4 326.3 L596.6 323.7 L596.8 317.8 L597.0 331.2 L597.3 328.6 L597.5 333.2 L597.7 330.3 L597.9 325.1 L598.2 310.1 L598.4 312.6 L598.6 325.7 L598.8 320.9 L599.1 326.7 L599.3 320.5 L599.5 315.4 L599.7 305.4 L600.0 304.8 L600.2 320.3 L600.4 315.4 L600.6 309.3 L600.9 307.7 L601.1 304.7 L601.3 293.0 L601.5 283.4 L601.8 281.5 L602.0 281.6 L602.2 299.4 L602.4 297.9 L602.7 270.3 L602.9 286.6 L603.1 315.0 L603.3 311.6 L603.6 308.2 L603.8 295.9 L604.0 301.3 L604.2 297.9 L604.4 255.9 L604.7 232.9 L604.9 279.1 L605.1 262.9 L605.3 277.8 L605.6 235.7 L605.8 231.1 L606.0 239.8 L606.2 264.9 L606.5 222.2 L606.7 251.6 L606.9 246.8 L607.1 250.9 L607.4 254.0 L607.6 251.4 L607.8 248.9 L608.0 246.4 L608.3 243.8 L608.5 241.3 L608.7 238.7 L608.9 212.1 L609.2 192.2 L609.4 204.6 L609.6 191.1 L609.8 194.9 L610.1 180.4 L610.3 185.7 L610.5 175.7 L610.7 173.9 L611.0 188.6 L611.2 210.6 L611.4 179.2 L611.6 196.7 L611.9 189.3 L612.1 168.2 L612.3 180.4 L612.5 175.9 L612.8 163.0 L613.0 183.5 L613.2 191.3 L613.4 165.7 L613.7 173.7 L613.9 166.3 L614.1 185.8 L614.3 166.8 L614.6 167.1 L614.8 167.3 L615.0 202.9 L615.2 167.9 L615.5 168.3 L615.7 185.5 L615.9 169.7 L616.1 171.9 L616.4 175.1 L616.6 199.9 L616.8 184.7 L617.0 194.7 L617.3 178.9 L617.5 186.4 L617.7 198.6 L617.9 175.7 L618.2 189.7 L618.4 181.9 L618.6 192.8 L618.8 178.0 L619.1 178.5 L619.3 195.5 L619.5 208.2 L619.7 206.4 L620.0 204.4 L620.2 193.9 L620.4 201.0 L620.6 182.4 L620.8 244.4 L621.1 246.2 L621.3 248.0 L621.5 240.8 L621.7 232.1 L622.0 248.4 L622.2 233.0 L622.4 256.9 L622.6 250.4 L622.9 239.7 L623.1 232.1 L623.3 243.5 L623.5 232.1 L623.8 233.7 L624.0 239.3 L624.2 263.2 L624.4 238.1 L624.7 230.5 L624.9 232.8 L625.1 255.3 L625.3 248.2 L625.6 261.7 L625.8 265.0 L626.0 272.9 L626.2 260.7 L626.5 258.1 L626.7 271.6 L626.9 290.2 L627.1 266.9 L627.4 282.9 L627.6 282.0 L627.8 273.4 L628.0 269.9 L628.3 271.6 L628.5 270.3 L628.7 272.7 L628.9 285.2 L629.2 274.9 L629.4 269.4 L629.6 275.2 L629.8 279.1 L630.1 276.3 L630.3 274.3 L630.5 304.2 L630.7 309.1 L631.0 310.9 L631.2 312.7 L631.4 302.4 L631.6 296.1 L631.9 288.3 L632.1 308.2 L632.3 311.7 L632.5 299.4 L632.8 277.1 L633.0 284.2 L633.2 302.8 L633.4 280.5 L633.7 283.4 L633.9 282.5 L634.1 297.7 L634.3 310.7 L634.6 289.6 L634.8 298.7 L635.0 308.7 L635.2 324.0 L635.5 317.7 L635.7 297.5 L635.9 304.8 L636.1 313.4 L636.4 314.2 L636.6 324.7 L636.8 347.4 L637.0 336.4 L637.2 349.6 L637.5 329.1 L637.7 299.9 L637.9 305.6 L638.1 308.1 L638.4 329.2 L638.6 330.7 L638.8 308.9 L639.0 321.6 L639.3 338.8 L639.5 315.9 L639.7 316.0 L639.9 312.7 L640.2 347.2 L640.4 324.6 L640.6 335.4 L640.8 290.0 L641.1 282.6 L641.3 300.7 L641.5 288.2 L641.7 319.1 L642.0 298.3 L642.2 287.8 L642.4 287.5 L642.6 293.1 L642.9 304.6 L643.1 313.4 L643.3 294.9 L643.5 285.6 L643.8 274.5 L644.0 288.3 L644.2 300.4 L644.4 312.8 L644.7 316.0 L644.9 317.0 L645.1 295.6 L645.3 286.2 L645.6 270.8 L645.8 269.7 L646.0 268.4 L646.2 270.3 L646.5 275.3 L646.7 271.9 L646.9 283.7 L647.1 299.3 L647.4 297.8 L647.6 286.1 L647.8 294.2 L648.0 311.7 L648.3 277.4 L648.5 297.1 L648.7 283.3 L648.9 279.4 L649.2 280.1 L649.4 280.9 L649.6 283.0 L649.8 282.4 L650.1 283.1 L650.3 283.5 L650.5 287.8 L650.7 301.2 L651.0 311.9 L651.2 305.3 L651.4 313.0 L651.6 318.2 L651.9 311.1 L652.1 311.9 L652.3 305.3 L652.5 313.5 L652.8 305.4 L653.0 301.5 L653.2 289.7 L653.4 301.9 L653.6 298.4 L653.9 293.0 L654.1 306.0 L654.3 312.6 L654.5 301.4 L654.8 302.9 L655.0 303.4 L655.2 306.2 L655.4 316.5 L655.7 330.6 L655.9 327.2 L656.1 307.4 L656.3 297.6 L656.6 295.9 L656.8 296.3 L657.0 297.6 L657.2 309.2 L657.5 308.0 L657.7 298.1 L657.9 306.1 L658.1 312.1 L658.4 324.6 L658.6 313.8 L658.8 321.0 L659.0 333.8 L659.3 327.6 L659.5 322.9 L659.7 292.8 L659.9 273.9 L660.2 250.5 L660.4 274.3 L660.6 290.5 L660.8 304.2 L661.1 304.7 L661.3 305.1 L661.5 306.5 L661.7 306.0 L662.0 312.5 L662.2 313.8 L662.4 307.3 L662.6 307.8 L662.9 308.4 L663.1 308.9 L663.3 309.5 L663.5 310.0 L663.8 325.2 L664.0 320.0 L664.2 334.1 L664.4 336.7 L664.7 355.3 L664.9 357.6 L665.1 365.3 L665.3 341.3 L665.6 315.1 L665.8 316.4 L666.0 329.2 L666.2 333.7 L666.5 327.6 L666.7 345.1 L666.9 341.4 L667.1 321.4 L667.4 345.3 L667.6 333.8 L667.8 344.5 L668.0 327.8 L668.3 351.8 L668.5 346.9 L668.7 344.2 L668.9 345.6 L669.2 347.4 L669.4 354.5 L669.6 361.9 L669.8 361.8 L670.0 361.6 L670.3 356.3 L670.5 360.9 L670.7 336.7 L670.9 348.2 L671.2 358.9 L671.4 359.3 L671.6 358.9 L671.8 308.3 L672.1 316.0 L672.3 318.3 L672.5 319.0 L672.7 333.1 L673.0 307.8 L673.2 311.5 L673.4 304.4 L673.6 304.8 L673.9 308.5 L674.1 303.3 L674.3 308.8 L674.5 330.4 L674.8 316.2 L675.0 322.7 L675.2 330.0 L675.4 326.1 L675.7 313.8 L675.9 315.7 L676.1 330.9 L676.3 327.4 L676.6 322.6 L676.8 312.9 L677.0 309.1 L677.2 309.9 L677.5 310.6 L677.7 311.3 L677.9 312.0 L678.1 312.8 L678.4 313.5 L678.6 314.2 L678.8 314.9 L679.0 313.8 L679.3 311.7 L679.5 317.0 L679.7 321.9 L679.9 316.1 L680.2 326.5 L680.4 342.1 L680.6 348.6 L680.8 345.0 L681.1 345.8 L681.3 345.3 L681.5 320.3 L681.7 319.5 L682.0 290.4 L682.2 284.9 L682.4 306.7 L682.6 298.3 L682.9 290.6 L683.1 279.3 L683.3 283.8 L683.5 284.4 L683.8 257.1 L684.0 251.3 L684.2 263.8 L684.4 241.4 L684.7 240.9 L684.9 231.6 L685.1 226.6 L685.3 225.7 L685.6 226.2 L685.8 240.3 L686.0 227.1 L686.2 227.5 L686.4 228.0 L686.7 237.6 L686.9 228.8 L687.1 246.9 L687.3 281.2 L687.6 262.2 L687.8 241.4 L688.0 251.9 L688.2 220.2 L688.5 243.8 L688.7 243.4 L688.9 244.5 L689.1 204.5 L689.4 207.5 L689.6 207.1 L689.8 192.7 L690.0 203.2 L690.3 236.4 L690.5 202.9 L690.7 207.3 L690.9 191.1 L691.2 191.9 L691.4 214.2 L691.6 210.5 L691.8 235.6 L692.1 214.6 L692.3 206.4 L692.5 199.2 L692.7 224.7 L693.0 222.2 L693.2 207.0 L693.4 247.3 L693.6 244.8 L693.9 197.5 L694.1 195.7 L694.3 194.0 L694.5 192.2 L694.8 202.7 L695.0 226.6 L695.2 215.8 L695.4 185.2 L695.7 214.0 L695.9 221.6 L696.1 209.2 L696.3 186.1 L696.6 209.4 L696.8 237.9 L697.0 223.6 L697.2 205.4 L697.5 202.0 L697.7 191.9 L697.9 204.9 L698.1 241.8 L698.4 206.2 L698.6 185.0 L698.8 229.9 L699.0 209.9 L699.3 188.3 L699.5 201.9 L699.7 222.4 L699.9 244.9 L700.2 177.0 L700.4 240.4 L700.6 195.7 L700.8 181.0 L701.1 255.8 L701.3 235.6 L701.5 249.7 L701.7 259.1 L702.0 232.9 L702.2 213.5 L702.4 253.4 L702.6 245.6 L702.8 269.5 L703.1 271.0 L703.3 263.3 L703.5 229.7 L703.7 197.6 L704.0 201.7 L704.2 205.7 L704.4 224.1 L704.6 213.9 L704.9 216.9 L705.1 219.4 L705.3 242.2 L705.5 224.3 L705.8 226.8 L706.0 243.1 L706.2 263.8 L706.4 247.7 L706.7 265.7 L706.9 247.7 L707.1 260.6 L707.3 271.0 L707.6 287.0 L707.8 284.7 L708.0 272.5 L708.2 249.9 L708.5 258.1 L708.7 266.2 L708.9 303.1 L709.1 313.1 L709.4 315.8 L709.6 307.9 L709.8 309.1 L710.0 298.2 L710.3 289.7 L710.5 279.1 L710.7 294.7 L710.9 292.7 L711.2 292.1 L711.4 285.6 L711.6 279.9 L711.8 292.9 L712.1 321.2 L712.3 321.3 L712.5 312.0 L712.7 307.4 L713.0 304.3 L713.2 298.5 L713.4 286.1 L713.6 296.4 L713.9 297.2 L714.1 320.2 L714.3 309.1 L714.5 318.2 L714.8 301.9 L715.0 294.4 L715.2 279.8 L715.4 298.6 L715.7 314.6 L715.9 313.9 L716.1 302.8 L716.3 307.0 L716.6 298.9 L716.8 295.7 L717.0 315.7 L717.2 323.7 L717.5 301.3 L717.7 313.6 L717.9 297.3 L718.1 316.7 L718.4 324.2 L718.6 308.4 L718.8 289.3 L719.0 260.5 L719.2 284.4 L719.5 298.4 L719.7 324.9 L719.9 324.8 L720.1 325.1 L720.4 325.2 L720.6 325.4 L720.8 321.5 L721.0 286.2 L721.3 301.1 L721.5 306.6 L721.7 311.9 L721.9 315.4 L722.2 294.0 L722.4 298.6 L722.6 285.1 L722.8 298.3 L723.1 297.6 L723.3 295.8 L723.5 306.0 L723.7 303.9 L724.0 320.9 L724.2 327.1 L724.4 314.3 L724.6 323.3 L724.9 325.6 L725.1 327.6 L725.3 308.5 L725.5 294.4 L725.8 316.9 L726.0 315.6 L726.2 283.0 L726.4 316.3 L726.7 304.9 L726.9 284.6 L727.1 280.3 L727.3 290.9 L727.6 301.8 L727.8 317.9 L728.0 321.3 L728.2 335.8 L728.5 327.0 L728.7 300.7 L728.9 311.5 L729.1 331.3 L729.4 342.4 L729.6 343.8 L729.8 344.6 L730.0 346.0 L730.3 346.5 L730.5 330.2 L730.7 309.9 L730.9 327.7 L731.2 333.4 L731.4 315.0 L731.6 291.7 L731.8 285.6 L732.1 302.3 L732.3 324.2 L732.5 329.0 L732.7 318.8 L733.0 320.5 L733.2 298.7 L733.4 267.6 L733.6 267.0 L733.9 274.4 L734.1 297.6 L734.3 327.2 L734.5 318.0 L734.8 307.3 L735.0 307.4 L735.2 292.4 L735.4 262.3 L735.6 269.8 L735.9 269.3 L736.1 253.0 L736.3 274.0 L736.5 280.5 L736.8 308.1 L737.0 301.5 L737.2 316.0 L737.4 319.2 L737.7 312.8 L737.9 291.8 L738.1 294.0 L738.3 298.5 L738.6 274.2 L738.8 264.1 L739.0 279.5 L739.2 264.7 L739.5 265.0 L739.7 265.3 L739.9 265.7 L740.1 275.7 L740.4 267.0 L740.6 305.3 L740.8 310.0 L741.0 306.7 L741.3 317.2 L741.5 343.8 L741.7 332.6 L741.9 314.4 L742.2 345.9 L742.4 346.6 L742.6 318.3 L742.8 322.6 L743.1 315.9 L743.3 320.8 L743.5 307.5 L743.7 350.8 L744.0 351.5 L744.2 326.7 L744.4 323.2 L744.6 289.7 L744.9 322.0 L745.1 302.6 L745.3 334.0 L745.5 280.4 L745.8 302.6 L746.0 286.9 L746.2 308.8 L746.4 326.6 L746.7 359.8 L746.9 334.6 L747.1 309.9 L747.3 316.0 L747.6 303.5 L747.8 293.3 L748.0 292.3 L748.2 318.8 L748.5 354.1 L748.7 344.9 L748.9 341.1 L749.1 318.7 L749.4 295.5 L749.6 287.8 L749.8 302.7 L750.0 313.2 L750.3 320.4 L750.5 305.4 L750.7 311.0 L750.9 340.6 L751.2 332.9 L751.4 332.5 L751.6 352.8 L751.8 352.5 L752.0 344.1 L752.3 337.1 L752.5 345.8 L752.7 351.2 L752.9 332.2 L753.2 341.7 L753.4 349.1 L753.6 319.2 L753.8 315.1 L754.1 318.7 L754.3 300.7 L754.5 305.1 L754.7 320.4 L755.0 331.3 L755.2 316.8 L755.4 330.1 L755.6 318.9 L755.9 327.0 L756.1 340.0 L756.3 343.2 L756.5 330.4 L756.8 327.4 L757.0 299.4 L757.2 312.8 L757.4 303.2 L757.7 339.7 L757.9 338.7 L758.1 337.5 L758.3 326.0 L758.6 318.0 L758.8 321.6 L759.0 296.6 L759.2 288.7 L759.5 312.4 L759.7 291.3 L759.9 320.8 L760.1 326.7 L760.4 301.7 L760.6 315.4 L760.8 309.4 L761.0 322.3 L761.3 311.0 L761.5 302.5 L761.7 297.8 L761.9 289.1 L762.2 270.3 L762.4 269.7 L762.6 301.5 L762.8 300.5 L763.1 281.3 L763.3 293.5 L763.5 303.4 L763.7 302.7 L764.0 308.7 L764.2 307.6 L764.4 306.5 L764.6 303.9 L764.9 297.9 L765.1 293.8 L765.3 290.2 L765.5 294.8 L765.8 299.8 L766.0 298.7 L766.2 273.6 L766.4 237.8 L766.7 272.9 L766.9 268.3 L767.1 287.0 L767.3 279.0 L767.6 278.1 L767.8 278.0 L768.0 247.5 L768.2 266.3 L768.4 227.0 L768.7 249.8 L768.9 231.8 L769.1 243.2 L769.3 188.7 L769.6 212.3 L769.8 185.5 L770.0 194.5 L770.2 205.6 L770.5 250.2 L770.7 233.4 L770.9 233.0 L771.1 191.4 L771.4 219.8 L771.6 232.0 L771.8 218.1 L772.0 214.1 L772.3 220.2 L772.5 205.9 L772.7 179.7 L772.9 191.6 L773.2 183.2 L773.4 172.6 L773.6 203.4 L773.8 209.2 L774.1 207.6 L774.3 194.8 L774.5 196.0 L774.7 202.9 L775.0 201.4 L775.2 185.2 L775.4 187.9 L775.6 178.4 L775.9 188.5 L776.1 151.1 L776.3 162.9 L776.5 159.3 L776.8 131.8 L777.0 159.2 L777.2 178.9 L777.4 178.2 L777.7 147.2 L777.9 148.5 L778.1 139.5 L778.3 160.2 L778.6 192.6 L778.8 156.1 L779.0 179.9 L779.2 143.1 L779.5 150.2 L779.7 177.1 L779.9 197.7 L780.1 221.0 L780.4 198.2 L780.6 214.8 L780.8 195.4 L781.0 196.4 L781.3 222.7 L781.5 180.0 L781.7 219.0 L781.9 161.7 L782.2 175.8 L782.4 175.0 L782.6 167.7 L782.8 171.5 L783.1 198.2 L783.3 180.6 L783.5 194.3 L783.7 192.2 L784.0 217.7 L784.2 217.1 L784.4 209.4 L784.6 186.8 L784.8 223.4 L785.1 219.4 L785.3 217.0 L785.5 216.4 L785.7 206.1 L786.0 176.8 L786.2 212.9 L786.4 202.4 L786.6 208.2 L786.9 215.0 L787.1 209.6 L787.3 198.7 L787.5 207.9 L787.8 208.6 L788.0 223.9 L788.2 206.7 L788.4 222.0 L788.7 214.7 L788.9 199.8 L789.1 212.8 L789.3 211.8 L789.6 269.0 L789.8 219.8 L790.0 234.8 L790.2 270.8 L790.5 243.1 L790.7 205.1 L790.9 230.3 L791.1 249.4 L791.4 210.7 L791.6 247.8 L791.8 227.5 L792.0 241.8 L792.3 266.2 L792.5 256.0 L792.7 284.2 L792.9 284.9 L793.2 273.3 L793.4 280.1 L793.6 284.3 L793.8 292.3 L794.1 294.2 L794.3 300.3 L794.5 287.2 L794.7 285.4 L795.0 283.7 L795.2 273.3 L795.4 298.6 L795.6 303.6 L795.9 306.1 L796.1 313.7 L796.3 314.6 L796.5 314.7 L796.8 315.3 L797.0 312.0 L797.2 316.0 L797.4 316.4 L797.7 316.8 L797.9 317.1 L798.1 309.7 L798.3 317.8 L798.6 299.6 L798.8 311.9 L799.0 309.2 L799.2 298.7 L799.5 298.5 L799.7 313.0 L799.9 290.7 L800.1 310.5 L800.4 317.9 L800.6 317.6 L800.8 311.4 L801.0 303.1 L801.2 302.5 L801.5 311.6 L801.7 323.8 L801.9 324.3 L802.1 324.8 L802.4 325.3 L802.6 298.1 L802.8 313.7 L803.0 302.8 L803.3 281.6 L803.5 256.2 L803.7 288.6 L803.9 283.9 L804.2 294.8 L804.4 299.7 L804.6 291.9 L804.8 307.5 L805.1 331.7 L805.3 312.9 L805.5 267.0 L805.7 272.4 L806.0 270.1 L806.2 276.8 L806.4 278.4 L806.6 288.6 L806.9 272.3 L807.1 284.8 L807.3 280.2 L807.5 275.7 L807.8 284.6 L808.0 274.8 L808.2 291.0 L808.4 286.5 L808.7 276.3 L808.9 284.0 L809.1 295.3 L809.3 298.4 L809.6 282.1 L809.8 302.4 L810.0 319.2 L810.2 319.7 L810.5 314.4 L810.7 309.5 L810.9 321.1 L811.1 321.6 L811.4 291.6 L811.6 255.1 L811.8 199.8 L812.0 255.5 L812.3 290.0 L812.5 289.1 L812.7 313.5 L812.9 327.4 L813.2 329.2 L813.4 327.9 L813.6 327.4 L813.8 327.7 L814.1 327.2 L814.3 325.7 L814.5 324.7 L814.7 323.6 L815.0 310.2 L815.2 313.6 L815.4 306.7 L815.6 306.0 L815.9 307.1 L816.1 314.4 L816.3 314.0 L816.5 302.8 L816.8 314.1 L817.0 313.0 L817.2 306.6 L817.4 289.0 L817.6 309.9 L817.9 308.8 L818.1 281.1 L818.3 292.6 L818.5 294.1 L818.8 296.3 L819.0 303.3 L819.2 306.5 L819.4 286.1 L819.7 286.6 L819.9 277.2 L820.1 257.1 L820.3 249.5 L820.6 232.9 L820.8 247.7 L821.0 257.1 L821.2 264.1 L821.5 263.8 L821.7 263.6 L821.9 263.4 L822.1 271.6 L822.4 263.0 L822.6 275.4 L822.8 267.9 L823.0 262.3 L823.3 262.1 L823.5 261.9 L823.7 261.6 L823.9 283.3 L824.2 292.2 L824.4 271.9 L824.6 262.0 L824.8 283.3 L825.1 284.5 L825.3 285.3 L825.5 285.3 L825.7 281.2 L826.0 284.5 L826.2 287.0 L826.4 294.9 L826.6 296.4 L826.9 296.7 L827.1 310.9 L827.3 311.0 L827.5 293.0 L827.8 296.1 L828.0 311.3 L828.2 307.1 L828.4 311.5 L828.7 311.6 L828.9 311.8 L829.1 302.1 L829.3 301.6 L829.6 310.7 L829.8 312.2 L830.0 312.3 L830.2 312.4 L830.5 312.5 L830.7 312.7 L830.9 313.0 L831.1 313.3 L831.4 313.7 L831.6 314.0 L831.8 314.4 L832.0 314.7 L832.3 315.0 L832.5 311.7 L832.7 315.7 L832.9 316.0 L833.2 316.0 L833.4 316.7 L833.6 313.0 L833.8 307.8 L834.0 306.3 L834.3 311.6 L834.5 312.1 L834.7 316.2 L834.9 319.1 L835.2 319.4 L835.4 315.7 L835.6 317.0 L835.8 321.7 L836.1 304.4 L836.3 285.8 L836.5 289.4 L836.7 285.5 L837.0 285.3 L837.2 292.4 L837.4 292.0 L837.6 284.8 L837.9 288.1 L838.1 294.5 L838.3 287.6 L838.5 289.9 L838.8 286.8 L839.0 283.8 L839.2 287.2 L839.4 312.7 L839.7 312.2 L839.9 311.7 L840.1 311.3 L840.3 299.0 L840.6 303.8 L840.8 302.5 L841.0 309.4 L841.2 309.7 L841.5 309.5 L841.7 309.4 L841.9 309.2 L842.1 309.0 L842.4 305.0 L842.6 308.6 L842.8 308.5 L843.0 308.3 L843.3 308.1 L843.5 307.9 L843.7 307.7 L843.9 288.1 L844.2 307.4 L844.4 303.5 L844.6 307.0 L844.8 292.6 L845.1 291.3 L845.3 306.5 L845.5 305.1 L845.7 306.1 L846.0 305.9 L846.2 305.8 L846.4 298.8 L846.6 265.5 L846.9 269.8 L847.1 260.5 L847.3 282.7 L847.5 281.0 L847.8 291.8 L848.0 268.1 L848.2 252.2 L848.4 263.5 L848.7 276.4 L848.9 258.8 L849.1 246.1 L849.3 261.4 L849.6 224.1 L849.8 245.8 L850.0 218.4 L850.2 220.9 L850.4 243.8 L850.7 238.5 L850.9 269.4 L851.1 225.5 L851.3 208.0 L851.6 218.0 L851.8 221.8 L852.0 199.9 L852.2 197.2 L852.5 194.5 L852.7 211.3 L852.9 198.9 L853.1 186.4 L853.4 195.1 L853.6 204.3 L853.8 218.9 L854.0 208.2 L854.3 209.0 L854.5 219.7 L854.7 191.7 L854.9 207.9 L855.2 183.2 L855.4 187.7 L855.6 210.7 L855.8 175.0 L856.1 156.6 L856.3 154.3 L856.5 156.5 L856.7 174.8 L857.0 164.4 L857.2 193.1 L857.4 142.5 L857.6 158.3 L857.9 138.1 L858.1 193.5 L858.3 184.0 L858.5 188.1 L858.8 167.9 L859.0 167.1 L859.2 131.9 L859.4 163.0 L859.7 121.7 L859.9 130.4 L860.1 113.1 L860.3 132.5 L860.6 116.7 L860.8 116.4 L861.0 141.3 L861.2 183.0 L861.5 161.7 L861.7 176.2 L861.9 150.9 L862.1 146.9 L862.4 139.2 L862.6 177.7 L862.8 164.7 L863.0 168.9 L863.3 167.9 L863.5 173.3 L863.7 160.3 L863.9 166.6 L864.2 164.1 L864.4 169.3 L864.6 185.1 L864.8 178.6 L865.1 180.8 L865.3 145.7 L865.5 169.9 L865.7 147.1 L866.0 150.6 L866.2 179.8 L866.4 199.2 L866.6 196.1 L866.8 144.8 L867.1 171.3 L867.3 143.3 L867.5 200.0 L867.7 190.8 L868.0 180.5 L868.2 195.3 L868.4 175.5 L868.6 192.6 L868.9 183.0 L869.1 202.2 L869.3 173.7 L869.5 230.7 L869.8 161.2 L870.0 210.3 L870.2 237.4 L870.4 239.7 L870.7 241.9 L870.9 231.4 L871.1 246.4 L871.3 248.7 L871.6 251.2 L871.8 255.0 L872.0 257.9 L872.2 262.6 L872.5 242.1 L872.7 270.1 L872.9 259.3 L873.1 274.9 L873.4 222.6 L873.6 245.2 L873.8 268.6 L874.0 267.0 L874.3 260.6 L874.5 255.1 L874.7 256.8 L874.9 254.7 L875.2 257.6 L875.4 250.1 L875.6 232.7 L875.8 268.6 L876.1 267.1 L876.3 256.6 L876.5 257.9 L876.7 253.6 L877.0 255.4 L877.2 259.9 L877.4 264.4 L877.6 268.8 L877.9 272.6 L878.1 271.0 L878.3 272.6 L878.5 268.6 L878.8 271.3 L879.0 275.6 L879.2 296.7 L879.4 285.7 L879.7 277.0 L879.9 280.0 L880.1 292.3 L880.3 276.9 L880.6 279.6 L880.8 293.6 L881.0 284.9 L881.2 304.2 L881.5 304.6 L881.7 290.2 L881.9 272.5 L882.1 245.4 L882.4 272.9 L882.6 300.4 L882.8 309.1 L883.0 293.7 L883.2 294.5 L883.5 303.1 L883.7 306.1 L883.9 291.4 L884.1 287.4 L884.4 289.3 L884.6 303.9 L884.8 278.0 L885.0 292.3 L885.3 285.0 L885.5 290.0 L885.7 297.9 L885.9 286.4 L886.2 273.3 L886.4 273.3 L886.6 267.9 L886.8 275.3 L887.1 287.9 L887.3 266.8 L887.5 266.3 L887.7 266.6 L888.0 248.2 L888.2 240.8 L888.4 230.4 L888.6 241.6 L888.9 253.1 L889.1 277.2 L889.3 289.8 L889.5 271.1 L889.8 283.2 L890.0 294.8 L890.2 277.5 L890.4 273.4 L890.7 268.7 L890.9 256.2 L891.1 266.8 L891.3 263.5 L891.6 285.6 L891.8 278.9 L892.0 273.8 L892.2 264.9 L892.5 262.2 L892.7 266.8 L892.9 276.3 L893.1 291.7 L893.4 305.9 L893.6 302.9 L893.8 287.8 L894.0 281.9 L894.3 271.4 L894.5 274.0 L894.7 241.3 L894.9 264.1 L895.2 236.0 L895.4 234.3 L895.6 232.7 L895.8 234.9 L896.1 233.2 L896.3 239.0 L896.5 227.9 L896.7 225.7 L897.0 227.3 L897.2 228.8 L897.4 230.4 L897.6 232.0 L897.9 261.4 L898.1 254.6 L898.3 265.5 L898.5 238.3 L898.8 223.2 L899.0 196.2 L899.2 173.2 L899.4 173.3 L899.6 197.9 L899.9 229.1 L900.1 249.3 L900.3 250.8 L900.5 252.4 L900.8 260.2 L901.0 270.9 L901.2 264.7 L901.4 258.7 L901.7 260.2 L901.9 259.9 L902.1 259.5 L902.3 259.1 L902.6 282.4 L902.8 282.5 L903.0 262.6 L903.2 274.9 L903.5 294.3 L903.7 285.1 L903.9 274.2 L904.1 304.1 L904.4 292.7 L904.6 297.0 L904.8 302.0 L905.0 297.6 L905.3 274.4 L905.5 269.9 L905.7 278.4 L905.9 273.2 L906.2 259.9 L906.4 255.5 L906.6 263.4 L906.8 284.8 L907.1 294.4 L907.3 305.2 L907.5 291.7 L907.7 277.0 L908.0 270.6 L908.2 265.7 L908.4 286.9 L908.6 285.6 L908.9 281.0 L909.1 288.9 L909.3 275.6 L909.5 287.8 L909.8 283.8 L910.0 294.5 L910.2 301.4 L910.4 307.9 L910.7 304.6 L910.9 283.6 L911.1 286.1 L911.3 287.0 L911.6 303.1 L911.8 309.5 L912.0 294.6 L912.2 291.3 L912.5 277.3 L912.7 286.2 L912.9 292.3 L913.1 291.6 L913.4 308.9 L913.6 312.5 L913.8 318.6 L914.0 310.6 L914.3 309.2 L914.5 320.5 L914.7 315.7 L914.9 282.4 L915.2 305.2 L915.4 278.3 L915.6 273.2 L915.8 275.6 L916.0 287.3 L916.3 280.5 L916.5 295.1 L916.7 326.7 L916.9 316.6 L917.2 322.6 L917.4 300.2 L917.6 290.3 L917.8 299.4 L918.1 315.9 L918.3 323.9 L918.5 330.5 L918.7 323.0 L919.0 292.8 L919.2 305.0 L919.4 284.3 L919.6 284.1 L919.9 289.8 L920.1 287.8 L920.3 285.1 L920.5 284.0 L920.8 281.6 L921.0 279.2 L921.2 276.8 L921.4 278.3 L921.7 289.3 L921.9 284.4 L922.1 276.1 L922.3 265.6 L922.6 271.6 L922.8 282.3 L923.0 302.4 L923.2 300.8 L923.5 272.0 L923.7 267.3 L923.9 281.0 L924.1 299.9 L924.4 298.6 L924.6 303.2 L924.8 303.2 L925.0 297.5 L925.3 285.1 L925.5 291.5 L925.7 272.9 L925.9 267.8 L926.2 276.8 L926.4 288.7 L926.6 266.5 L926.8 278.8 L927.1 260.3 L927.3 259.1 L927.5 256.2 L927.7 268.3 L928.0 258.2 L928.2 247.6 L928.4 246.2 L928.6 247.6 L928.9 243.9 L929.1 243.1 L929.3 246.2 L929.5 256.8 L929.8 248.8 L930.0 222.2 L930.2 270.7 L930.4 268.4 L930.7 261.0 L930.9 260.3 L931.1 261.7 L931.3 259.5 L931.6 257.2 L931.8 221.4 L932.0 248.6 L932.2 212.2 L932.4 216.5 L932.7 245.8 L932.9 198.2 L933.1 202.6 L933.3 214.1 L933.6 193.2 L933.8 195.9 L934.0 212.7 L934.2 193.6 L934.5 193.6 L934.7 208.6 L934.9 171.9 L935.1 172.8 L935.4 166.6 L935.6 187.3 L935.8 185.5 L936.0 158.5 L936.3 175.5 L936.5 178.7 L936.7 150.4 L936.9 160.5 L937.2 143.9 L937.4 188.7 L937.6 170.3 L937.8 172.9 L938.1 171.5 L938.3 188.5 L938.5 119.0 L938.7 169.7 L939.0 138.4 L939.2 145.9 L939.4 135.3 L939.6 141.3 L939.9 115.8 L940.1 118.2 L940.3 124.2 L940.5 126.7 L940.8 120.8 L941.0 123.0 L941.2 144.2 L941.4 139.9 L941.7 135.7 L941.9 145.5 L942.1 154.9 L942.3 140.0 L942.6 124.7 L942.8 114.6 L943.0 115.1 L943.2 144.4 L943.5 133.2 L943.7 95.1 L943.9 121.4 L944.1 147.7 L944.4 154.4 L944.6 159.4 L944.8 142.5 L945.0 180.7 L945.3 153.0 L945.5 150.5 L945.7 143.3 L945.9 134.5 L946.2 181.2 L946.4 139.7 L946.6 140.2 L946.8 137.8 L947.1 136.8 L947.3 135.9 L947.5 135.1 L947.7 133.9 L948.0 182.2 L948.2 166.2 L948.4 196.5 L948.6 142.7 L948.8 142.5 L949.1 128.2 L949.3 134.3 L949.5 148.0 L949.7 176.1 L950.0 199.9 L950.2 203.9 L950.4 166.9 L950.6 198.8 L950.9 206.6 L951.1 207.5 L951.3 207.2 L951.5 209.3 L951.8 198.6 L952.0 206.6 L952.2 212.0 L952.4 212.8 L952.7 207.6 L952.9 219.0 L953.1 238.4 L953.3 239.3 L953.6 211.6 L953.8 206.6 L954.0 230.5 L954.2 180.4 L954.5 213.7 L954.7 209.9 L954.9 192.9 L955.1 187.0 L955.4 204.3 L955.6 215.8 L955.8 208.0 L956.0 228.1 L956.3 220.6 L956.5 234.5 L956.7 224.3 L956.9 214.9 L957.2 216.7 L957.4 223.2 L957.6 238.4 L957.8 247.6 L958.1 249.2 L958.3 241.9 L958.5 248.0 L958.7 240.4 L959.0 242.8 L959.2 242.2 L959.4 256.4 L959.6 252.8 L959.9 262.5 L960.1 260.1 L960.3 274.3 L960.5 277.5 L960.8 289.2 L961.0 289.4 L961.2 280.2 L961.4 281.8 L961.7 286.4 L961.9 290.2 L962.1 280.1 L962.3 290.5 L962.6 290.7 L962.8 288.5 L963.0 291.1 L963.2 279.5 L963.5 274.0 L963.7 277.0 L963.9 279.1 L964.1 282.7 L964.4 260.3 L964.6 273.4 L964.8 265.2 L965.0 274.5 L965.2 278.7 L965.5 273.2 L965.7 268.6 L965.9 274.7 L966.1 285.3 L966.4 285.2 L966.6 284.2 L966.8 276.0 L967.0 278.8 L967.3 272.6 L967.5 260.0 L967.7 258.2 L967.9 260.0 L968.2 248.2 L968.4 264.8 L968.6 273.4 L968.8 293.8 L969.1 273.1 L969.3 257.5 L969.5 256.7 L969.7 269.4 L970.0 276.2 L970.2 291.1 L970.4 290.7 L970.6 290.2 L970.9 289.8 L971.1 289.3 L971.3 272.4 L971.5 252.5 L971.8 223.1 L972.0 252.1 L972.2 271.1 L972.4 286.6 L972.7 284.6 L972.9 277.7 L973.1 285.3 L973.3 286.0 L973.6 286.7 L973.8 271.1 L974.0 269.5 L974.2 267.0 L974.5 258.5 L974.7 266.2 L974.9 283.4 L975.1 280.9 L975.4 262.4 L975.6 290.0 L975.8 269.8 L976.0 277.7 L976.3 273.8 L976.5 289.0 L976.7 292.3 L976.9 268.8 L977.2 269.0 L977.4 244.4 L977.6 241.6 L977.8 250.5 L978.1 249.6 L978.3 261.8 L978.5 268.5 L978.7 252.5 L979.0 229.9 L979.2 227.0 L979.4 258.6 L979.6 258.9 L979.9 287.6 L980.1 269.0 L980.3 267.4 L980.5 281.3 L980.8 282.3 L981.0 269.1 L981.2 272.3 L981.4 281.8 L981.6 265.2 L981.9 245.1 L982.1 210.6 L982.3 166.6 L982.5 201.5 L982.8 239.8 L983.0 266.0 L983.2 255.2 L983.4 256.9 L983.7 255.9 L983.9 253.9 L984.1 255.7 L984.3 275.3 L984.6 273.5 L984.8 260.2 L985.0 282.7 L985.2 268.0 L985.5 261.6 L985.7 262.9 L985.9 267.3 L986.1 293.1 L986.4 278.8 L986.6 277.7 L986.8 267.9 L987.0 268.8 L987.3 285.5 L987.5 291.3 L987.7 291.8 L987.9 308.7 L988.2 295.6 L988.4 310.1 L988.6 277.3 L988.8 232.4 L989.1 181.6 L989.3 238.9 L989.5 268.1 L989.7 302.9 L990.0 301.6 L990.2 292.4 L990.4 292.5 L990.6 314.4 L990.9 308.5 L991.1 302.6 L991.3 304.0 L991.5 311.6 L991.8 307.9 L992.0 312.5 L992.2 327.0 L992.4 318.3 L992.7 328.9 L992.9 328.3 L993.1 328.2 L993.3 331.7 L993.6 332.7 L993.8 333.7 L994.0 334.6 L994.2 325.9 L994.5 336.5 L994.7 317.5 L994.9 319.0 L995.1 337.7 L995.4 339.4 L995.6 341.7 L995.8 334.1 L996.0 326.8 L996.3 317.0 L996.5 315.4 L996.7 314.0 L996.9 319.3 L997.2 297.4 L997.4 297.0 L997.6 296.5 L997.8 296.1 L998.0 295.6 L998.3 297.6 L998.5 326.6 L998.7 313.8 L998.9 301.3 L999.2 297.7 L999.4 292.9 L999.6 292.7 L999.8 292.6 L1000.1 299.9 L1000.3 316.4 L1000.5 292.3 L1000.7 297.3 L1001.0 328.1 L1001.2 327.1 L1001.4 314.2 L1001.6 319.2 L1001.9 310.2 L1002.1 299.7 L1002.3 306.4 L1002.5 291.3 L1002.8 291.2 L1003.0 291.1 L1003.2 290.9 L1003.4 290.8 L1003.7 290.7 L1003.9 290.6 L1004.1 290.5 L1004.3 290.4 L1004.6 289.4 L1004.8 306.6 L1005.0 310.7 L1005.2 325.8 L1005.5 302.0 L1005.7 289.5 L1005.9 280.5 L1006.1 277.0 L1006.4 302.3 L1006.6 294.3 L1006.8 287.5 L1007.0 301.6 L1007.3 289.5 L1007.5 288.5 L1007.7 295.5 L1007.9 302.0 L1008.2 294.8 L1008.4 274.5 L1008.6 270.0 L1008.8 253.6 L1009.1 248.6 L1009.3 246.8 L1009.5 248.7 L1009.7 243.2 L1010.0 241.4 L1010.2 239.6 L1010.4 237.8 L1010.6 236.0 L1010.9 234.2 L1011.1 248.9 L1011.3 237.0 L1011.5 228.8 L1011.8 227.0 L1012.0 225.2 L1012.2 237.9 L1012.4 235.4 L1012.7 233.8 L1012.9 229.3 L1013.1 219.9 L1013.3 217.5 L1013.6 218.8 L1013.8 211.6 L1014.0 202.7 L1014.2 214.6 L1014.4 201.3 L1014.7 232.1 L1014.9 226.1 L1015.1 249.4 L1015.3 209.9 L1015.6 168.3 L1015.8 199.7 L1016.0 240.4 L1016.2 166.8 L1016.5 175.6 L1016.7 173.7 L1016.9 145.3 L1017.1 138.6 L1017.4 142.2 L1017.6 162.3 L1017.8 140.1 L1018.0 169.9 L1018.3 200.5 L1018.5 146.2 L1018.7 201.8 L1018.9 162.5 L1019.2 215.7 L1019.4 184.5 L1019.6 147.3 L1019.8 181.5 L1020.1 165.4 L1020.3 180.8 L1020.5 205.7 L1020.7 180.7 L1021.0 165.0 L1021.2 180.6 L1021.4 179.0 L1021.6 149.6 L1021.9 174.5 L1022.1 176.6 L1022.3 161.5 L1022.5 154.9 L1022.8 148.9 L1023.0 149.2 L1023.2 141.3 L1023.4 146.3 L1023.7 130.2 L1023.9 184.5 L1024.1 172.3 L1024.3 184.7 L1024.6 162.8 L1024.8 125.9 L1025.0 97.1 L1025.2 117.0 L1025.5 162.8 L1025.7 177.6 L1025.9 176.8 L1026.1 140.2 L1026.4 157.8 L1026.6 180.8 L1026.8 184.7 L1027.0 177.7 L1027.3 178.3 L1027.5 147.4 L1027.7 182.3 L1027.9 164.5 L1028.2 144.7 L1028.4 177.8 L1028.6 187.6 L1028.8 165.2 L1029.1 138.6 L1029.3 168.2 L1029.5 194.5 L1029.7 186.7 L1030.0 193.5 L1030.2 193.5 L1030.4 186.2 L1030.6 185.2 L1030.8 196.1 L1031.1 180.0 L1031.3 185.1 L1031.5 190.3 L1031.7 201.5 L1032.0 198.4 L1032.2 203.3 L1032.4 214.9 L1032.6 216.4 L1032.9 200.9 L1033.1 219.4 L1033.3 220.9 L1033.5 216.8 L1033.8 193.9 L1034.0 202.2 L1034.2 191.3 L1034.4 192.7 L1034.7 229.2 L1034.9 220.1 L1035.1 227.3 L1035.3 193.3 L1035.6 188.9 L1035.8 209.8 L1036.0 211.7 L1036.2 216.0 L1036.5 244.4 L1036.7 186.9 L1036.9 234.9 L1037.1 210.7 L1037.4 253.4 L1037.6 199.9 L1037.8 239.0 L1038.0 212.0 L1038.3 201.3 L1038.5 212.9 L1038.7 243.1 L1038.9 251.2 L1039.2 247.1 L1039.4 255.7 L1039.6 257.9 L1039.8 260.2 L1040.1 262.4 L1040.3 264.7 L1040.5 266.9 L1040.7 269.2 L1041.0 271.1 L1041.2 272.7 L1041.4 274.4 L1041.6 276.0 L1041.9 277.4 L1042.1 279.3 L1042.3 281.0 L1042.5 282.6 L1042.8 284.3 L1043.0 280.4 L1043.2 282.4 L1043.4 283.6 L1043.7 290.9 L1043.9 292.5 L1044.1 294.2 L1044.3 295.8 L1044.6 297.5 L1044.8 298.6 L1045.0 299.5 L1045.2 300.5 L1045.5 301.5 L1045.7 302.4 L1045.9 303.4 L1046.1 304.4 L1046.4 305.3 L1046.6 306.3 L1046.8 305.8 L1047.0 296.8 L1047.2 307.8 L1047.5 310.2 L1047.7 282.1 L1047.9 282.3 L1048.1 283.2 L1048.4 282.9 L1048.6 310.4 L1048.8 316.2 L1049.0 300.6 L1049.3 264.2 L1049.5 271.0 L1049.7 269.9 L1049.9 263.7 L1050.2 272.1 L1050.4 259.5 L1050.6 266.9 L1050.8 260.7 L1051.1 267.6 L1051.3 259.4 L1051.5 260.6 L1051.7 249.7 L1052.0 262.6 L1052.2 263.5 L1052.4 241.5 L1052.6 238.7 L1052.9 278.1 L1053.1 272.8 L1053.3 282.9 L1053.5 260.3 L1053.8 248.0 L1054.0 241.9 L1054.2 240.1 L1054.4 263.0 L1054.7 274.8 L1054.9 271.1 L1055.1 273.4" fill="none" stroke="#0a0a0a" stroke-width="2.0" stroke-linejoin="round"/>
<path d="M112.0 430.4 L112.3 425.3 L112.6 420.3 L112.9 414.3 L113.3 412.3 L113.6 408.7 L113.9 406.8 L114.2 408.5 L114.5 410.6 L114.8 417.9 L115.2 425.2 L115.5 431.6 L115.8 435.2 L116.1 439.9 L116.4 440.3 L116.7 434.6 L117.0 430.8 L117.4 427.5 L117.7 423.4 L118.0 420.5 L118.3 416.9 L118.6 411.7 L118.9 409.3 L119.3 410.0 L119.6 410.3 L119.9 412.7 L120.2 415.2 L120.5 418.3 L120.8 421.1 L121.1 425.0 L121.5 426.0 L121.8 426.4 L122.1 425.2 L122.4 424.6 L122.7 423.2 L123.0 421.5 L123.4 417.0 L123.7 413.4 L124.0 409.7 L124.3 406.7 L124.6 404.0 L124.9 402.9 L125.2 401.3 L125.6 400.3 L125.9 400.0 L126.2 405.1 L126.5 407.9 L126.8 411.5 L127.1 412.6 L127.5 415.1 L127.8 417.3 L128.1 420.6 L128.4 422.8 L128.7 424.6 L129.0 425.4 L129.3 422.9 L129.7 420.8 L130.0 420.6 L130.3 417.7 L130.6 413.7 L130.9 410.1 L131.2 406.5 L131.6 401.3 L131.9 395.8 L132.2 390.1 L132.5 386.2 L132.8 382.7 L133.1 379.8 L133.4 377.1 L133.8 374.1 L134.1 373.7 L134.4 376.4 L134.7 380.6 L135.0 385.0 L135.3 391.6 L135.7 397.0 L136.0 404.1 L136.3 410.0 L136.6 413.7 L136.9 416.8 L137.2 419.9 L137.5 424.3 L137.9 427.9 L138.2 431.8 L138.5 433.8 L138.8 438.4 L139.1 440.3 L139.4 440.7 L139.8 440.6 L140.1 439.5 L140.4 442.3 L140.7 443.1 L141.0 444.1 L141.3 443.8 L141.6 442.5 L142.0 441.6 L142.3 439.0 L142.6 437.3 L142.9 436.2 L143.2 436.5 L143.5 433.0 L143.9 427.9 L144.2 423.4 L144.5 422.4 L144.8 425.1 L145.1 427.1 L145.4 425.1 L145.7 421.1 L146.1 418.1 L146.4 415.9 L146.7 415.4 L147.0 419.3 L147.3 421.6 L147.6 426.1 L148.0 429.0 L148.3 431.3 L148.6 433.6 L148.9 436.5 L149.2 439.2 L149.5 442.5 L149.8 441.8 L150.2 442.4 L150.5 444.1 L150.8 448.4 L151.1 451.6 L151.4 454.2 L151.7 456.0 L152.1 457.5 L152.4 456.7 L152.7 457.4 L153.0 456.6 L153.3 457.4 L153.6 456.9 L153.9 457.6 L154.3 460.7 L154.6 461.1 L154.9 461.1 L155.2 459.6 L155.5 458.1 L155.8 459.2 L156.2 459.0 L156.5 458.5 L156.8 455.7 L157.1 454.1 L157.4 452.5 L157.7 451.8 L158.0 449.7 L158.4 449.3 L158.7 447.4 L159.0 447.2 L159.3 447.7 L159.6 448.7 L159.9 446.2 L160.3 442.5 L160.6 442.0 L160.9 441.9 L161.2 443.1 L161.5 443.7 L161.8 441.8 L162.1 438.9 L162.5 435.5 L162.8 430.2 L163.1 427.3 L163.4 428.7 L163.7 429.6 L164.0 428.0 L164.4 422.8 L164.7 418.9 L165.0 419.7 L165.3 420.4 L165.6 423.7 L165.9 427.7 L166.2 431.9 L166.6 432.6 L166.9 430.6 L167.2 428.1 L167.5 426.5 L167.8 426.6 L168.1 426.4 L168.5 427.4 L168.8 429.6 L169.1 428.2 L169.4 423.4 L169.7 419.2 L170.0 418.1 L170.3 418.3 L170.7 418.4 L171.0 419.5 L171.3 420.3 L171.6 419.5 L171.9 418.9 L172.2 418.9 L172.6 418.8 L172.9 418.7 L173.2 418.3 L173.5 417.6 L173.8 416.1 L174.1 416.4 L174.4 416.6 L174.8 420.0 L175.1 422.9 L175.4 424.0 L175.7 426.1 L176.0 429.3 L176.3 429.4 L176.7 431.2 L177.0 431.6 L177.3 432.2 L177.6 434.9 L177.9 434.8 L178.2 433.7 L178.5 431.4 L178.9 427.9 L179.2 427.6 L179.5 429.0 L179.8 431.4 L180.1 431.8 L180.4 426.9 L180.8 423.0 L181.1 423.3 L181.4 426.1 L181.7 427.2 L182.0 428.0 L182.3 427.7 L182.6 427.8 L183.0 423.8 L183.3 419.0 L183.6 418.4 L183.9 417.6 L184.2 417.8 L184.5 416.4 L184.9 416.8 L185.2 415.4 L185.5 416.2 L185.8 415.9 L186.1 413.5 L186.4 410.8 L186.7 406.8 L187.1 404.5 L187.4 404.3 L187.7 403.0 L188.0 400.3 L188.3 397.5 L188.6 394.3 L189.0 392.5 L189.3 390.4 L189.6 388.9 L189.9 388.3 L190.2 388.1 L190.5 385.0 L190.8 384.7 L191.2 384.5 L191.5 385.6 L191.8 388.6 L192.1 389.3 L192.4 391.5 L192.7 392.9 L193.1 392.1 L193.4 389.6 L193.7 388.2 L194.0 383.0 L194.3 377.4 L194.6 375.8 L194.9 376.7 L195.3 377.4 L195.6 373.0 L195.9 371.1 L196.2 366.4 L196.5 364.8 L196.8 362.8 L197.2 360.7 L197.5 356.4 L197.8 352.6 L198.1 348.4 L198.4 342.8 L198.7 337.8 L199.0 337.2 L199.4 334.7 L199.7 335.0 L200.0 342.6 L200.3 351.4 L200.6 358.1 L200.9 362.6 L201.3 367.4 L201.6 373.9 L201.9 372.5 L202.2 373.5 L202.5 374.7 L202.8 377.2 L203.1 376.7 L203.5 377.4 L203.8 376.9 L204.1 373.7 L204.4 370.2 L204.7 367.0 L205.0 369.0 L205.4 369.4 L205.7 365.8 L206.0 361.6 L206.3 355.6 L206.6 353.2 L206.9 352.4 L207.2 353.2 L207.6 359.9 L207.9 366.8 L208.2 372.5 L208.5 375.4 L208.8 378.3 L209.1 381.6 L209.5 386.8 L209.8 392.8 L210.1 395.5 L210.4 399.1 L210.7 397.0 L211.0 395.8 L211.3 393.0 L211.7 391.8 L212.0 391.4 L212.3 390.3 L212.6 388.2 L212.9 385.4 L213.2 382.9 L213.6 379.1 L213.9 375.3 L214.2 373.2 L214.5 374.5 L214.8 375.3 L215.1 374.1 L215.4 373.1 L215.8 373.2 L216.1 373.5 L216.4 373.8 L216.7 371.9 L217.0 367.5 L217.3 361.3 L217.7 361.3 L218.0 362.1 L218.3 362.1 L218.6 359.8 L218.9 357.8 L219.2 356.1 L219.5 360.4 L219.9 364.5 L220.2 369.7 L220.5 375.3 L220.8 379.4 L221.1 382.1 L221.4 384.3 L221.8 385.7 L222.1 388.3 L222.4 391.0 L222.7 394.4 L223.0 397.2 L223.3 396.9 L223.6 396.4 L224.0 395.1 L224.3 393.4 L224.6 390.1 L224.9 386.6 L225.2 385.0 L225.5 383.8 L225.9 383.7 L226.2 384.6 L226.5 386.3 L226.8 386.6 L227.1 385.3 L227.4 384.8 L227.7 383.3 L228.1 382.1 L228.4 381.3 L228.7 380.1 L229.0 379.3 L229.3 380.0 L229.6 382.3 L230.0 385.5 L230.3 386.6 L230.6 388.3 L230.9 390.1 L231.2 393.3 L231.5 399.0 L231.8 404.4 L232.2 406.0 L232.5 408.4 L232.8 405.8 L233.1 404.4 L233.4 401.5 L233.7 399.1 L234.1 395.4 L234.4 391.8 L234.7 391.4 L235.0 389.5 L235.3 388.7 L235.6 390.3 L235.9 389.2 L236.3 388.4 L236.6 387.1 L236.9 384.7 L237.2 383.3 L237.5 380.3 L237.8 378.7 L238.2 378.5 L238.5 379.4 L238.8 382.5 L239.1 386.4 L239.4 389.6 L239.7 389.9 L240.0 391.3 L240.4 391.7 L240.7 392.1 L241.0 391.8 L241.3 390.6 L241.6 388.1 L241.9 386.4 L242.3 384.7 L242.6 383.0 L242.9 381.3 L243.2 381.5 L243.5 383.3 L243.8 383.0 L244.1 381.0 L244.5 380.2 L244.8 379.4 L245.1 378.8 L245.4 377.6 L245.7 375.2 L246.0 372.1 L246.4 370.4 L246.7 369.7 L247.0 369.2 L247.3 368.6 L247.6 370.3 L247.9 370.3 L248.2 369.2 L248.6 367.4 L248.9 365.9 L249.2 366.1 L249.5 364.5 L249.8 363.9 L250.1 362.0 L250.5 360.3 L250.8 359.7 L251.1 361.2 L251.4 360.2 L251.7 362.2 L252.0 361.6 L252.3 361.3 L252.7 358.8 L253.0 357.8 L253.3 355.6 L253.6 354.5 L253.9 352.2 L254.2 350.0 L254.6 346.5 L254.9 342.7 L255.2 343.2 L255.5 342.7 L255.8 341.9 L256.1 338.6 L256.4 336.5 L256.8 337.1 L257.1 336.7 L257.4 338.3 L257.7 334.9 L258.0 332.2 L258.3 329.7 L258.7 328.4 L259.0 328.7 L259.3 326.9 L259.6 325.6 L259.9 325.4 L260.2 325.9 L260.5 326.4 L260.9 325.7 L261.2 324.3 L261.5 324.5 L261.8 323.1 L262.1 322.2 L262.4 322.5 L262.8 319.0 L263.1 317.1 L263.4 316.5 L263.7 316.6 L264.0 316.9 L264.3 315.6 L264.6 314.0 L265.0 310.0 L265.3 313.1 L265.6 316.3 L265.9 317.2 L266.2 314.9 L266.5 311.8 L266.9 310.6 L267.2 305.6 L267.5 300.6 L267.8 296.0 L268.1 290.7 L268.4 284.9 L268.7 278.4 L269.1 271.2 L269.4 266.5 L269.7 271.4 L270.0 274.4 L270.3 280.6 L270.6 286.1 L271.0 291.3 L271.3 298.2 L271.6 303.6 L271.9 306.6 L272.2 304.1 L272.5 301.6 L272.8 299.8 L273.2 301.5 L273.5 302.1 L273.8 303.5 L274.1 305.5 L274.4 304.0 L274.7 299.6 L275.1 294.7 L275.4 291.9 L275.7 289.6 L276.0 285.5 L276.3 286.3 L276.6 285.4 L276.9 281.8 L277.3 279.1 L277.6 276.7 L277.9 272.8 L278.2 269.1 L278.5 264.2 L278.8 262.9 L279.2 260.1 L279.5 258.5 L279.8 249.2 L280.1 240.3 L280.4 231.8 L280.7 226.4 L281.0 221.2 L281.4 217.3 L281.7 216.0 L282.0 214.6 L282.3 211.1 L282.6 208.8 L282.9 204.8 L283.3 200.7 L283.6 202.0 L283.9 209.2 L284.2 216.1 L284.5 223.8 L284.8 231.8 L285.1 239.7 L285.5 245.0 L285.8 247.7 L286.1 249.6 L286.4 253.7 L286.7 259.6 L287.0 266.1 L287.4 277.1 L287.7 286.0 L288.0 295.9 L288.3 297.8 L288.6 292.1 L288.9 285.2 L289.2 280.0 L289.6 273.0 L289.9 268.5 L290.2 265.0 L290.5 262.2 L290.8 258.8 L291.1 255.4 L291.5 251.3 L291.8 247.6 L292.1 249.2 L292.4 254.6 L292.7 260.8 L293.0 265.4 L293.3 270.6 L293.7 275.3 L294.0 278.9 L294.3 286.4 L294.6 292.2 L294.9 299.3 L295.2 302.2 L295.6 308.1 L295.9 310.9 L296.2 311.5 L296.5 313.9 L296.8 313.8 L297.1 313.7 L297.4 314.4 L297.8 313.2 L298.1 311.6 L298.4 314.7 L298.7 317.5 L299.0 320.4 L299.3 319.0 L299.7 314.8 L300.0 313.7 L300.3 314.9 L300.6 315.5 L300.9 316.2 L301.2 317.0 L301.5 317.5 L301.9 316.5 L302.2 312.8 L302.5 311.9 L302.8 309.9 L303.1 309.7 L303.4 303.7 L303.8 296.3 L304.1 290.2 L304.4 294.0 L304.7 297.5 L305.0 303.0 L305.3 304.0 L305.6 305.4 L306.0 305.4 L306.3 306.8 L306.6 306.1 L306.9 308.2 L307.2 312.5 L307.5 318.9 L307.9 321.0 L308.2 322.6 L308.5 327.9 L308.8 332.2 L309.1 336.5 L309.4 337.9 L309.7 338.9 L310.1 339.1 L310.4 338.5 L310.7 338.4 L311.0 338.8 L311.3 340.1 L311.6 341.9 L312.0 343.7 L312.3 346.7 L312.6 348.0 L312.9 348.7 L313.2 349.0 L313.5 350.6 L313.8 354.5 L314.2 357.6 L314.5 360.2 L314.8 360.1 L315.1 359.5 L315.4 361.7 L315.7 364.1 L316.1 365.2 L316.4 367.1 L316.7 366.0 L317.0 368.5 L317.3 366.3 L317.6 366.5 L317.9 366.6 L318.3 367.5 L318.6 364.7 L318.9 362.5 L319.2 358.6 L319.5 357.4 L319.8 355.2 L320.2 353.8 L320.5 352.3 L320.8 349.3 L321.1 347.7 L321.4 347.1 L321.7 347.0 L322.0 346.0 L322.4 347.6 L322.7 348.7 L323.0 351.5 L323.3 355.9 L323.6 360.1 L323.9 363.2 L324.3 366.7 L324.6 367.7 L324.9 366.0 L325.2 363.1 L325.5 362.0 L325.8 361.7 L326.1 361.2 L326.5 360.8 L326.8 362.0 L327.1 362.3 L327.4 361.4 L327.7 360.2 L328.0 357.4 L328.4 352.4 L328.7 348.5 L329.0 348.0 L329.3 347.2 L329.6 348.4 L329.9 349.4 L330.2 351.8 L330.6 352.9 L330.9 355.1 L331.2 358.2 L331.5 362.7 L331.8 366.5 L332.1 370.2 L332.5 370.7 L332.8 370.9 L333.1 371.2 L333.4 372.8 L333.7 374.0 L334.0 375.7 L334.3 377.7 L334.7 379.5 L335.0 377.7 L335.3 377.5 L335.6 375.9 L335.9 376.8 L336.2 379.1 L336.6 381.6 L336.9 382.1 L337.2 383.8 L337.5 386.6 L337.8 387.9 L338.1 390.7 L338.4 390.6 L338.8 391.3 L339.1 391.0 L339.4 394.3 L339.7 395.1 L340.0 394.6 L340.3 393.7 L340.7 394.0 L341.0 391.4 L341.3 389.9 L341.6 389.0 L341.9 386.3 L342.2 384.6 L342.5 381.7 L342.9 378.9 L343.2 376.0 L343.5 373.0 L343.8 371.1 L344.1 372.3 L344.4 373.1 L344.8 376.4 L345.1 375.8 L345.4 374.7 L345.7 372.9 L346.0 371.4 L346.3 368.0 L346.6 365.1 L347.0 364.9 L347.3 365.5 L347.6 365.4 L347.9 365.3 L348.2 364.6 L348.5 361.0 L348.9 359.4 L349.2 356.9 L349.5 359.3 L349.8 361.1 L350.1 360.1 L350.4 359.5 L350.7 357.4 L351.1 357.4 L351.4 359.2 L351.7 362.4 L352.0 364.2 L352.3 366.4 L352.6 369.0 L353.0 369.9 L353.3 370.1 L353.6 367.7 L353.9 366.1 L354.2 364.8 L354.5 362.4 L354.8 359.6 L355.2 356.1 L355.5 354.0 L355.8 350.7 L356.1 346.8 L356.4 344.5 L356.7 342.3 L357.1 340.8 L357.4 344.1 L357.7 347.4 L358.0 346.2 L358.3 345.8 L358.6 347.5 L358.9 350.0 L359.3 354.4 L359.6 353.9 L359.9 353.3 L360.2 351.8 L360.5 354.7 L360.8 358.0 L361.2 360.5 L361.5 359.8 L361.8 359.0 L362.1 358.6 L362.4 358.3 L362.7 358.8 L363.0 356.4 L363.4 354.6 L363.7 354.3 L364.0 360.2 L364.3 365.8 L364.6 365.4 L364.9 363.5 L365.3 360.8 L365.6 361.1 L365.9 361.9 L366.2 361.5 L366.5 364.8 L366.8 366.0 L367.1 368.5 L367.5 365.7 L367.8 363.5 L368.1 361.6 L368.4 358.6 L368.7 357.5 L369.0 354.5 L369.4 354.2 L369.7 351.7 L370.0 349.2 L370.3 349.7 L370.6 351.4 L370.9 354.9 L371.2 359.2 L371.6 358.0 L371.9 356.9 L372.2 356.1 L372.5 359.5 L372.8 362.4 L373.1 365.8 L373.5 367.5 L373.8 369.1 L374.1 372.7 L374.4 374.7 L374.7 377.0 L375.0 375.9 L375.3 377.3 L375.7 380.3 L376.0 382.6 L376.3 383.6 L376.6 387.2 L376.9 389.8 L377.2 392.6 L377.6 391.6 L377.9 387.7 L378.2 386.6 L378.5 385.9 L378.8 385.7 L379.1 384.1 L379.4 383.3 L379.8 380.4 L380.1 379.5 L380.4 377.6 L380.7 378.6 L381.0 384.7 L381.3 390.1 L381.7 393.5 L382.0 396.3 L382.3 399.8 L382.6 404.9 L382.9 411.5 L383.2 417.3 L383.5 419.4 L383.9 422.2 L384.2 422.6 L384.5 419.1 L384.8 416.6 L385.1 419.9 L385.4 423.5 L385.8 427.1 L386.1 426.6 L386.4 426.9 L386.7 428.7 L387.0 427.2 L387.3 422.1 L387.6 416.0 L388.0 409.2 L388.3 402.3 L388.6 396.4 L388.9 393.3 L389.2 391.9 L389.5 391.4 L389.9 390.0 L390.2 389.4 L390.5 388.7 L390.8 389.3 L391.1 387.1 L391.4 385.1 L391.7 385.0 L392.1 383.0 L392.4 382.5 L392.7 384.2 L393.0 386.8 L393.3 388.7 L393.6 390.5 L394.0 392.6 L394.3 394.3 L394.6 396.4 L394.9 397.6 L395.2 399.3 L395.5 398.7 L395.8 399.6 L396.2 401.8 L396.5 406.3 L396.8 410.0 L397.1 409.0 L397.4 407.5 L397.7 407.2 L398.1 409.6 L398.4 412.9 L398.7 412.7 L399.0 410.4 L399.3 407.5 L399.6 408.0 L399.9 410.1 L400.3 409.4 L400.6 403.7 L400.9 399.0 L401.2 399.0 L401.5 401.2 L401.8 403.6 L402.2 402.6 L402.5 400.9 L402.8 402.0 L403.1 405.2 L403.4 408.4 L403.7 412.4 L404.0 413.8 L404.4 416.3 L404.7 414.4 L405.0 411.4 L405.3 409.9 L405.6 411.0 L405.9 412.9 L406.3 415.9 L406.6 416.6 L406.9 418.5 L407.2 419.8 L407.5 419.7 L407.8 418.2 L408.1 415.3 L408.5 412.3 L408.8 409.7 L409.1 411.6 L409.4 411.9 L409.7 411.5 L410.0 407.4 L410.4 405.0 L410.7 405.6 L411.0 408.3 L411.3 410.0 L411.6 409.0 L411.9 411.2 L412.2 410.0 L412.6 410.2 L412.9 409.2 L413.2 411.4 L413.5 414.6 L413.8 415.6 L414.1 419.6 L414.5 423.8 L414.8 425.2 L415.1 421.5 L415.4 421.5 L415.7 422.5 L416.0 425.7 L416.3 429.2 L416.7 431.0 L417.0 434.0 L417.3 436.6 L417.6 437.7 L417.9 440.6 L418.2 442.7 L418.6 445.0 L418.9 446.7 L419.2 446.1 L419.5 445.5 L419.8 448.3 L420.1 453.9 L420.4 461.3 L420.8 463.9 L421.1 462.0 L421.4 461.4 L421.7 461.4 L422.0 459.0 L422.3 457.3 L422.7 456.0 L423.0 454.0 L423.3 451.4 L423.6 449.4 L423.9 446.6 L424.2 444.4 L424.5 441.8 L424.9 439.7 L425.2 438.6 L425.5 440.6 L425.8 441.9 L426.1 445.2 L426.4 447.7 L426.8 445.6 L427.1 443.7 L427.4 441.5 L427.7 441.1 L428.0 440.5 L428.3 441.8 L428.6 445.8 L429.0 450.5 L429.3 452.4 L429.6 453.1 L429.9 453.8 L430.2 454.7 L430.5 453.9 L430.9 453.5 L431.2 452.7 L431.5 452.0 L431.8 448.7 L432.1 444.9 L432.4 440.7 L432.7 439.6 L433.1 440.2 L433.4 438.5 L433.7 437.6 L434.0 436.6 L434.3 434.4 L434.6 434.1 L435.0 431.8 L435.3 429.2 L435.6 426.3 L435.9 424.8 L436.2 420.4 L436.5 414.6 L436.8 410.6 L437.2 408.1 L437.5 405.3 L437.8 403.7 L438.1 403.7 L438.4 402.2 L438.7 400.2 L439.1 395.8 L439.4 394.5 L439.7 395.2 L440.0 397.3 L440.3 395.6 L440.6 390.7 L440.9 387.4 L441.3 385.9 L441.6 385.2 L441.9 388.4 L442.2 391.8 L442.5 395.7 L442.8 401.0 L443.2 407.4 L443.5 414.8 L443.8 411.7 L444.1 410.1 L444.4 407.8 L444.7 405.6 L445.0 402.8 L445.4 402.0 L445.7 402.0 L446.0 401.7 L446.3 399.6 L446.6 397.5 L446.9 397.1 L447.3 397.5 L447.6 397.8 L447.9 400.2 L448.2 399.6 L448.5 400.7 L448.8 399.4 L449.1 396.8 L449.5 395.9 L449.8 395.7 L450.1 399.8 L450.4 400.2 L450.7 401.8 L451.0 403.5 L451.4 405.4 L451.7 407.6 L452.0 410.4 L452.3 411.4 L452.6 412.6 L452.9 411.6 L453.2 413.5 L453.6 414.0 L453.9 414.1 L454.2 414.8 L454.5 418.5 L454.8 421.4 L455.1 423.6 L455.5 428.6 L455.8 429.1 L456.1 429.9 L456.4 433.0 L456.7 437.0 L457.0 441.9 L457.3 445.0 L457.7 445.8 L458.0 444.4 L458.3 441.2 L458.6 439.4 L458.9 434.7 L459.2 430.1 L459.6 425.1 L459.9 421.4 L460.2 417.3 L460.5 416.1 L460.8 419.3 L461.1 420.9 L461.4 423.7 L461.8 428.0 L462.1 432.7 L462.4 435.0 L462.7 435.7 L463.0 433.8 L463.3 431.6 L463.7 429.2 L464.0 426.8 L464.3 423.2 L464.6 419.5 L464.9 417.7 L465.2 417.1 L465.5 418.9 L465.9 417.9 L466.2 415.1 L466.5 413.6 L466.8 421.1 L467.1 427.8 L467.4 432.0 L467.8 430.1 L468.1 431.6 L468.4 431.8 L468.7 433.3 L469.0 435.3 L469.3 433.4 L469.6 431.1 L470.0 430.7 L470.3 430.5 L470.6 430.4 L470.9 432.3 L471.2 434.1 L471.5 435.9 L471.9 434.5 L472.2 434.0 L472.5 432.3 L472.8 433.7 L473.1 436.0 L473.4 437.1 L473.7 440.2 L474.1 441.7 L474.4 443.6 L474.7 443.4 L475.0 443.9 L475.3 443.0 L475.6 441.8 L476.0 441.9 L476.3 444.1 L476.6 446.4 L476.9 448.0 L477.2 450.1 L477.5 450.5 L477.8 450.4 L478.2 452.1 L478.5 452.4 L478.8 453.0 L479.1 452.2 L479.4 452.2 L479.7 454.0 L480.1 454.9 L480.4 457.3 L480.7 460.3 L481.0 463.1 L481.3 460.9 L481.6 458.0 L481.9 455.0 L482.3 453.4 L482.6 452.3 L482.9 447.6 L483.2 442.5 L483.5 438.8 L483.8 438.5 L484.2 436.6 L484.5 437.8 L484.8 437.2 L485.1 434.9 L485.4 437.1 L485.7 440.8 L486.0 443.2 L486.4 448.1 L486.7 452.1 L487.0 449.6 L487.3 445.1 L487.6 441.6 L487.9 436.4 L488.3 431.5 L488.6 427.3 L488.9 425.2 L489.2 423.8 L489.5 421.6 L489.8 417.9 L490.1 414.9 L490.5 410.8 L490.8 406.5 L491.1 403.3 L491.4 404.9 L491.7 411.6 L492.0 415.5 L492.4 424.0 L492.7 432.0 L493.0 437.1 L493.3 434.1 L493.6 431.7 L493.9 426.9 L494.2 424.3 L494.6 420.3 L494.9 418.0 L495.2 416.9 L495.5 413.1 L495.8 410.4 L496.1 407.6 L496.5 407.7 L496.8 407.9 L497.1 408.9 L497.4 404.3 L497.7 400.0 L498.0 398.2 L498.3 398.2 L498.7 397.0 L499.0 394.9 L499.3 391.4 L499.6 388.0 L499.9 384.1 L500.2 376.8 L500.6 373.4 L500.9 372.4 L501.2 371.8 L501.5 367.7 L501.8 363.1 L502.1 358.1 L502.4 357.2 L502.8 360.9 L503.1 363.4 L503.4 363.0 L503.7 362.9 L504.0 363.9 L504.3 369.9 L504.7 372.6 L505.0 373.6 L505.3 375.3 L505.6 377.2 L505.9 376.9 L506.2 377.3 L506.5 378.1 L506.9 381.5 L507.2 384.0 L507.5 386.7 L507.8 388.8 L508.1 392.2 L508.4 398.0 L508.8 403.3 L509.1 406.1 L509.4 406.0 L509.7 404.1 L510.0 405.9 L510.3 408.9 L510.6 411.6 L511.0 413.2 L511.3 415.9 L511.6 418.7 L511.9 416.8 L512.2 413.9 L512.5 410.7 L512.9 407.4 L513.2 402.3 L513.5 397.9 L513.8 394.5 L514.1 390.6 L514.4 387.3 L514.7 385.3 L515.1 392.4 L515.4 399.8 L515.7 406.9 L516.0 412.2 L516.3 416.0 L516.6 418.5 L517.0 422.0 L517.3 422.1 L517.6 422.1 L517.9 423.6 L518.2 423.2 L518.5 427.2 L518.8 430.0 L519.2 433.9 L519.5 433.9 L519.8 436.6 L520.1 438.8 L520.4 439.5 L520.7 437.5 L521.1 436.2 L521.4 436.1 L521.7 436.1 L522.0 432.8 L522.3 427.1 L522.6 424.1 L522.9 422.7 L523.3 421.5 L523.6 420.8 L523.9 422.7 L524.2 425.0 L524.5 425.9 L524.8 426.4 L525.2 425.9 L525.5 428.2 L525.8 430.5 L526.1 432.5 L526.4 430.2 L526.7 430.0 L527.0 430.0 L527.4 430.1 L527.7 431.3 L528.0 432.5 L528.3 434.1 L528.6 435.5 L528.9 435.9 L529.3 435.8 L529.6 437.1 L529.9 439.9 L530.2 440.8 L530.5 441.3 L530.8 439.0 L531.1 436.7 L531.5 435.0 L531.8 433.1 L532.1 433.4 L532.4 432.9 L532.7 431.9 L533.0 430.8 L533.4 430.3 L533.7 429.3 L534.0 426.6 L534.3 422.5 L534.6 422.2 L534.9 425.2 L535.2 427.0 L535.6 427.6 L535.9 427.6 L536.2 429.8 L536.5 432.9 L536.8 434.4 L537.1 435.1 L537.5 434.4 L537.8 433.3 L538.1 435.4 L538.4 434.9 L538.7 433.5 L539.0 429.4 L539.3 424.4 L539.7 420.4 L540.0 420.1 L540.3 418.6 L540.6 418.3 L540.9 416.9 L541.2 416.8 L541.6 413.4 L541.9 408.5 L542.2 411.5 L542.5 416.2 L542.8 420.4 L543.1 422.3 L543.4 420.2 L543.8 420.1 L544.1 423.5 L544.4 428.0 L544.7 432.8 L545.0 434.9 L545.3 438.3 L545.7 440.6 L546.0 442.5 L546.3 443.9 L546.6 444.2 L546.9 444.5 L547.2 445.2 L547.5 451.0 L547.9 454.9 L548.2 457.0 L548.5 451.5 L548.8 446.0 L549.1 444.8 L549.4 446.9 L549.8 448.9 L550.1 447.1 L550.4 443.3 L550.7 441.2 L551.0 440.8 L551.3 439.8 L551.6 437.7 L552.0 433.9 L552.3 433.8 L552.6 432.3 L552.9 433.4 L553.2 433.9 L553.5 435.6 L553.9 436.5 L554.2 438.8 L554.5 439.1 L554.8 436.3 L555.1 435.3 L555.4 434.4 L555.7 433.3 L556.1 430.3 L556.4 426.4 L556.7 424.1 L557.0 423.5 L557.3 422.2 L557.6 421.2 L558.0 422.1 L558.3 423.6 L558.6 426.1 L558.9 429.6 L559.2 430.2 L559.5 427.4 L559.8 426.8 L560.2 426.5 L560.5 431.9 L560.8 436.3 L561.1 437.8 L561.4 440.5 L561.7 443.7 L562.1 444.5 L562.4 446.7 L562.7 447.8 L563.0 446.9 L563.3 448.4 L563.6 449.5 L563.9 451.5 L564.3 451.7 L564.6 449.9 L564.9 449.6 L565.2 450.0 L565.5 449.7 L565.8 449.1 L566.2 447.9 L566.5 446.4 L566.8 444.6 L567.1 443.8 L567.4 443.3 L567.7 442.9 L568.0 441.8 L568.4 439.8 L568.7 441.3 L569.0 441.9 L569.3 441.2 L569.6 442.3 L569.9 444.2 L570.3 444.7 L570.6 440.8 L570.9 438.4 L571.2 437.2 L571.5 439.6 L571.8 441.2 L572.1 442.8 L572.5 442.5 L572.8 442.4 L573.1 439.0 L573.4 436.5 L573.7 435.7 L574.0 439.8 L574.4 440.1 L574.7 436.9 L575.0 433.2 L575.3 430.4 L575.6 431.9 L575.9 432.1 L576.2 433.1 L576.6 429.6 L576.9 426.7 L577.2 425.2 L577.5 422.3 L577.8 419.8 L578.1 420.8 L578.5 423.0 L578.8 424.1 L579.1 425.5 L579.4 426.2 L579.7 425.0 L580.0 421.1 L580.3 417.5 L580.7 419.4 L581.0 419.7 L581.3 419.3 L581.6 417.7 L581.9 415.9 L582.2 413.0 L582.6 413.9 L582.9 413.3 L583.2 414.1 L583.5 416.2 L583.8 416.7 L584.1 414.9 L584.4 414.7 L584.8 413.8 L585.1 414.5 L585.4 414.4 L585.7 415.6 L586.0 416.5 L586.3 416.1 L586.7 413.0 L587.0 410.3 L587.3 407.8 L587.6 407.8 L587.9 409.3 L588.2 408.6 L588.5 408.0 L588.9 408.9 L589.2 411.6 L589.5 413.2 L589.8 413.4 L590.1 409.8 L590.4 406.1 L590.8 404.2 L591.1 403.5 L591.4 403.2 L591.7 404.8 L592.0 404.2 L592.3 404.2 L592.6 404.4 L593.0 405.7 L593.3 403.0 L593.6 399.1 L593.9 394.1 L594.2 393.9 L594.5 393.6 L594.9 392.2 L595.2 392.4 L595.5 389.7 L595.8 390.3 L596.1 392.7 L596.4 395.8 L596.7 398.8 L597.1 403.1 L597.4 406.4 L597.7 403.9 L598.0 402.7 L598.3 401.8 L598.6 403.4 L599.0 403.9 L599.3 407.1 L599.6 411.0 L599.9 416.1 L600.2 418.6 L600.5 420.4 L600.8 420.5 L601.2 413.8 L601.5 406.8 L601.8 402.9 L602.1 400.7 L602.4 399.6 L602.7 397.9 L603.1 394.9 L603.4 393.5 L603.7 391.8 L604.0 389.6 L604.3 390.0 L604.6 391.9 L604.9 393.8 L605.3 393.0 L605.6 393.0 L605.9 393.1 L606.2 393.8 L606.5 394.1 L606.8 398.7 L607.2 401.6 L607.5 405.5 L607.8 409.2 L608.1 412.2 L608.4 415.6 L608.7 420.7 L609.0 425.8 L609.4 417.9 L609.7 406.5 L610.0 394.2 L610.3 385.1 L610.6 376.4 L610.9 371.0 L611.3 372.2 L611.6 374.0 L611.9 374.0 L612.2 371.5 L612.5 369.0 L612.8 368.2 L613.1 368.5 L613.5 368.3 L613.8 368.0 L614.1 367.0 L614.4 367.0 L614.7 366.1 L615.0 366.0 L615.4 367.5 L615.7 372.5 L616.0 374.8 L616.3 374.4 L616.6 371.3 L616.9 370.6 L617.2 371.7 L617.6 374.0 L617.9 373.7 L618.2 371.8 L618.5 371.4 L618.8 370.3 L619.1 369.0 L619.5 369.0 L619.8 368.3 L620.1 368.9 L620.4 368.8 L620.7 369.8 L621.0 370.0 L621.3 371.4 L621.7 370.3 L622.0 370.5 L622.3 371.9 L622.6 374.3 L622.9 375.1 L623.2 374.6 L623.6 373.7 L623.9 373.6 L624.2 377.0 L624.5 378.3 L624.8 380.1 L625.1 381.5 L625.4 383.6 L625.8 383.0 L626.1 383.2 L626.4 384.2 L626.7 385.2 L627.0 386.7 L627.3 387.7 L627.7 389.6 L628.0 391.5 L628.3 392.5 L628.6 394.3 L628.9 395.0 L629.2 394.8 L629.5 395.2 L629.9 393.6 L630.2 394.2 L630.5 393.1 L630.8 390.1 L631.1 389.2 L631.4 388.2 L631.8 389.3 L632.1 389.0 L632.4 388.6 L632.7 386.9 L633.0 384.5 L633.3 381.0 L633.6 377.5 L634.0 375.3 L634.3 375.7 L634.6 375.3 L634.9 374.1 L635.2 374.6 L635.5 373.3 L635.9 371.7 L636.2 370.4 L636.5 367.7 L636.8 364.3 L637.1 361.1 L637.4 359.8 L637.7 361.0 L638.1 365.1 L638.4 367.6 L638.7 370.4 L639.0 372.8 L639.3 374.2 L639.6 377.5 L640.0 375.4 L640.3 377.9 L640.6 381.5 L640.9 381.3 L641.2 381.4 L641.5 382.0 L641.8 384.7 L642.2 386.7 L642.5 388.9 L642.8 391.5 L643.1 392.5 L643.4 395.4 L643.7 398.5 L644.1 403.4 L644.4 405.5 L644.7 408.8 L645.0 412.5 L645.3 413.0 L645.6 413.9 L645.9 414.4 L646.3 416.5 L646.6 418.0 L646.9 419.4 L647.2 417.7 L647.5 417.2 L647.8 421.1 L648.2 425.3 L648.5 426.5 L648.8 426.3 L649.1 424.9 L649.4 429.1 L649.7 434.6 L650.0 440.4 L650.4 441.4 L650.7 442.2 L651.0 442.8 L651.3 440.2 L651.6 433.4 L651.9 428.5 L652.3 424.2 L652.6 420.8 L652.9 421.9 L653.2 427.8 L653.5 434.7 L653.8 437.5 L654.1 438.0 L654.5 442.2 L654.8 447.5 L655.1 454.6 L655.4 455.3 L655.7 455.3 L656.0 452.8 L656.4 452.5 L656.7 453.5 L657.0 452.4 L657.3 450.9 L657.6 448.2 L657.9 448.8 L658.2 447.4 L658.6 448.8 L658.9 445.5 L659.2 441.5 L659.5 439.2 L659.8 438.0 L660.1 437.4 L660.5 434.2 L660.8 427.7 L661.1 422.6 L661.4 422.4 L661.7 420.4 L662.0 419.3 L662.3 412.9 L662.7 408.4 L663.0 404.4 L663.3 405.2 L663.6 410.1 L663.9 410.0 L664.2 412.0 L664.6 413.0 L664.9 414.9 L665.2 415.5 L665.5 411.4 L665.8 408.7 L666.1 406.9 L666.4 400.3 L666.8 392.1 L667.1 384.7 L667.4 382.9 L667.7 382.1 L668.0 381.6 L668.3 379.8 L668.7 377.5 L669.0 375.4 L669.3 372.5 L669.6 370.1 L669.9 372.6 L670.2 376.3 L670.5 380.1 L670.9 379.5 L671.2 379.4 L671.5 381.8 L671.8 385.0 L672.1 386.8 L672.4 389.4 L672.8 392.3 L673.1 395.3 L673.4 393.7 L673.7 391.4 L674.0 391.6 L674.3 394.2 L674.6 396.9 L675.0 397.3 L675.3 397.9 L675.6 399.2 L675.9 401.2 L676.2 404.1 L676.5 405.8 L676.9 405.0 L677.2 405.2 L677.5 405.1 L677.8 400.4 L678.1 395.5 L678.4 393.3 L678.7 391.4 L679.1 390.7 L679.4 388.2 L679.7 385.4 L680.0 383.8 L680.3 386.3 L680.6 389.2 L681.0 389.7 L681.3 390.9 L681.6 392.0 L681.9 392.3 L682.2 393.4 L682.5 395.6 L682.8 395.1 L683.2 394.8 L683.5 392.3 L683.8 390.0 L684.1 386.6 L684.4 387.3 L684.7 385.5 L685.1 385.0 L685.4 384.6 L685.7 385.6 L686.0 388.5 L686.3 390.4 L686.6 393.8 L686.9 394.0 L687.3 394.1 L687.6 396.6 L687.9 395.2 L688.2 394.7 L688.5 391.4 L688.8 387.9 L689.2 385.4 L689.5 383.5 L689.8 382.0 L690.1 380.6 L690.4 377.1 L690.7 375.5 L691.0 373.0 L691.4 373.0 L691.7 371.8 L692.0 370.5 L692.3 367.6 L692.6 365.9 L692.9 364.3 L693.3 362.0 L693.6 363.7 L693.9 365.3 L694.2 366.0 L694.5 367.8 L694.8 370.0 L695.1 372.0 L695.5 373.3 L695.8 375.6 L696.1 373.6 L696.4 371.4 L696.7 368.2 L697.0 369.8 L697.4 373.8 L697.7 378.3 L698.0 373.3 L698.3 370.1 L698.6 367.8 L698.9 368.7 L699.2 374.6 L699.6 377.6 L699.9 379.7 L700.2 381.3 L700.5 384.1 L700.8 388.4 L701.1 391.1 L701.5 393.8 L701.8 394.8 L702.1 396.9 L702.4 397.6 L702.7 400.0 L703.0 396.6 L703.3 392.9 L703.7 390.0 L704.0 387.0 L704.3 385.5 L704.6 382.9 L704.9 381.6 L705.2 380.1 L705.6 377.3 L705.9 373.9 L706.2 371.4 L706.5 367.6 L706.8 363.2 L707.1 362.3 L707.4 361.7 L707.8 364.6 L708.1 369.7 L708.4 374.1 L708.7 378.0 L709.0 386.0 L709.3 393.7 L709.7 397.7 L710.0 395.5 L710.3 394.3 L710.6 392.7 L710.9 392.0 L711.2 391.6 L711.5 391.0 L711.9 391.6 L712.2 391.1 L712.5 389.8 L712.8 388.6 L713.1 390.0 L713.4 390.5 L713.8 390.1 L714.1 393.2 L714.4 399.3 L714.7 402.4 L715.0 402.5 L715.3 400.1 L715.6 397.6 L716.0 395.2 L716.3 394.4 L716.6 392.2 L716.9 392.0 L717.2 391.0 L717.5 384.2 L717.9 378.6 L718.2 374.3 L718.5 379.4 L718.8 387.3 L719.1 395.2 L719.4 405.7 L719.7 414.6 L720.1 418.4 L720.4 423.3 L720.7 426.7 L721.0 431.4 L721.3 436.0 L721.6 441.2 L722.0 449.2 L722.3 456.1 L722.6 453.7 L722.9 451.0 L723.2 448.0 L723.5 438.9 L723.8 432.7 L724.2 428.0 L724.5 423.7 L724.8 421.5 L725.1 425.5 L725.4 430.3 L725.7 434.7 L726.1 442.3 L726.4 448.7 L726.7 456.0 L727.0 464.8 L727.3 473.6 L727.6 468.1 L727.9 460.9 L728.3 455.6 L728.6 450.7 L728.9 446.7 L729.2 440.5 L729.5 437.2 L729.8 432.7 L730.2 429.0 L730.5 424.8 L730.8 421.5 L731.1 417.1 L731.4 413.3 L731.7 410.1 L732.0 410.2 L732.4 410.4 L732.7 408.8 L733.0 405.6 L733.3 402.9 L733.6 398.6 L733.9 394.1 L734.3 390.0 L734.6 389.0 L734.9 388.9 L735.2 394.6 L735.5 399.0 L735.8 403.4 L736.1 406.1 L736.5 408.1 L736.8 411.7 L737.1 414.4 L737.4 418.2 L737.7 420.7 L738.0 416.5 L738.4 410.4 L738.7 404.7 L739.0 402.0 L739.3 398.2 L739.6 391.4 L739.9 383.9 L740.2 379.7 L740.6 383.0 L740.9 388.1 L741.2 389.7 L741.5 389.4 L741.8 391.3 L742.1 392.5 L742.5 396.5 L742.8 399.9 L743.1 395.7 L743.4 389.2 L743.7 386.8 L744.0 384.9 L744.3 384.9 L744.7 379.6 L745.0 373.3 L745.3 368.4 L745.6 366.4 L745.9 363.5 L746.2 363.3 L746.6 361.2 L746.9 365.2 L747.2 368.8 L747.5 373.2 L747.8 376.5 L748.1 380.5 L748.4 384.3 L748.8 386.7 L749.1 388.8 L749.4 389.4 L749.7 393.5 L750.0 398.8 L750.3 404.2 L750.7 405.7 L751.0 406.7 L751.3 407.4 L751.6 411.1 L751.9 414.1 L752.2 416.7 L752.5 417.9 L752.9 421.8 L753.2 421.6 L753.5 422.8 L753.8 423.9 L754.1 428.3 L754.4 430.3 L754.8 433.0 L755.1 437.4 L755.4 440.9 L755.7 439.2 L756.0 437.1 L756.3 434.8 L756.6 437.3 L757.0 440.9 L757.3 442.8 L757.6 437.9 L757.9 431.5 L758.2 427.8 L758.5 423.9 L758.9 422.7 L759.2 415.2 L759.5 407.4 L759.8 399.9 L760.1 398.9 L760.4 402.7 L760.7 405.9 L761.1 411.3 L761.4 416.0 L761.7 420.2 L762.0 423.8 L762.3 426.5 L762.6 427.4 L763.0 426.6 L763.3 426.8 L763.6 427.9 L763.9 428.3 L764.2 431.0 L764.5 433.7 L764.8 436.7 L765.2 436.2 L765.5 437.9 L765.8 438.1 L766.1 439.2 L766.4 439.1 L766.7 437.3 L767.1 432.8 L767.4 430.5 L767.7 430.3 L768.0 428.8 L768.3 428.1 L768.6 426.9 L768.9 427.1 L769.3 422.5 L769.6 418.7 L769.9 413.6 L770.2 412.5 L770.5 410.5 L770.8 410.0 L771.2 410.7 L771.5 412.7 L771.8 413.9 L772.1 413.8 L772.4 414.3 L772.7 409.2 L773.0 403.5 L773.4 396.5 L773.7 391.5 L774.0 387.4 L774.3 384.7 L774.6 382.8 L774.9 380.8 L775.3 377.2 L775.6 376.5 L775.9 379.7 L776.2 385.0 L776.5 390.6 L776.8 394.4 L777.1 395.2 L777.5 396.8 L777.8 391.8 L778.1 385.9 L778.4 381.6 L778.7 374.9 L779.0 378.4 L779.4 381.8 L779.7 385.7 L780.0 388.3 L780.3 391.4 L780.6 395.8 L780.9 399.7 L781.2 406.1 L781.6 410.8 L781.9 417.2 L782.2 421.0 L782.5 425.5 L782.8 419.5 L783.1 413.7 L783.5 407.9 L783.8 406.2 L784.1 405.2 L784.4 403.0 L784.7 398.5 L785.0 394.4 L785.3 390.8 L785.7 388.7 L786.0 386.9 L786.3 383.7 L786.6 382.4 L786.9 380.3 L787.2 378.8 L787.6 377.1 L787.9 377.8 L788.2 379.1 L788.5 380.6 L788.8 382.0 L789.1 383.7 L789.4 384.6 L789.8 385.2 L790.1 385.5 L790.4 384.0 L790.7 382.8 L791.0 380.1 L791.3 379.9 L791.7 381.2 L792.0 384.3 L792.3 384.8 L792.6 382.7 L792.9 383.7 L793.2 382.2 L793.5 382.5 L793.9 383.0 L794.2 385.5 L794.5 388.3 L794.8 386.0 L795.1 383.9 L795.4 382.0 L795.8 386.3 L796.1 389.1 L796.4 392.2 L796.7 390.6 L797.0 387.7 L797.3 387.1 L797.6 387.1 L798.0 387.3 L798.3 389.1 L798.6 391.1 L798.9 394.5 L799.2 399.6 L799.5 404.6 L799.9 407.0 L800.2 407.8 L800.5 408.1 L800.8 409.1 L801.1 407.1 L801.4 408.3 L801.7 411.4 L802.1 414.2 L802.4 417.2 L802.7 420.7 L803.0 424.0 L803.3 423.0 L803.6 422.4 L804.0 421.0 L804.3 423.8 L804.6 427.1 L804.9 431.1 L805.2 433.1 L805.5 435.0 L805.8 433.6 L806.2 433.6 L806.5 432.5 L806.8 432.4 L807.1 430.0 L807.4 430.5 L807.7 432.4 L808.1 434.6 L808.4 435.3 L808.7 433.2 L809.0 429.3 L809.3 429.0 L809.6 427.1 L809.9 426.3 L810.3 427.5 L810.6 427.3 L810.9 425.1 L811.2 421.3 L811.5 416.6 L811.8 416.8 L812.2 422.8 L812.5 426.9 L812.8 424.9 L813.1 424.8 L813.4 425.6 L813.7 427.6 L814.0 430.6 L814.4 432.5 L814.7 434.2 L815.0 436.1 L815.3 438.5 L815.6 440.4 L815.9 442.2 L816.3 442.3 L816.6 444.1 L816.9 444.5 L817.2 445.8 L817.5 447.3 L817.8 445.8 L818.1 444.5 L818.5 444.9 L818.8 446.7 L819.1 447.6 L819.4 448.9 L819.7 452.0 L820.0 453.4 L820.4 455.2 L820.7 458.2 L821.0 459.8 L821.3 461.8 L821.6 463.4 L821.9 461.7 L822.2 455.8 L822.6 447.6 L822.9 449.1 L823.2 450.1 L823.5 450.4 L823.8 447.7 L824.1 444.9 L824.5 443.7 L824.8 443.2 L825.1 442.7 L825.4 441.2 L825.7 439.4 L826.0 438.9 L826.3 436.2 L826.7 434.4 L827.0 430.8 L827.3 423.8 L827.6 416.7 L827.9 411.5 L828.2 408.9 L828.6 406.1 L828.9 401.9 L829.2 400.4 L829.5 398.3 L829.8 396.1 L830.1 393.8 L830.4 391.3 L830.8 391.7 L831.1 390.6 L831.4 390.7 L831.7 388.0 L832.0 386.8 L832.3 384.0 L832.7 383.7 L833.0 389.7 L833.3 397.9 L833.6 407.2 L833.9 411.3 L834.2 415.4 L834.5 415.5 L834.9 405.6 L835.2 397.3 L835.5 388.3 L835.8 380.4 L836.1 374.0 L836.4 381.4 L836.8 393.7 L837.1 405.4 L837.4 412.7 L837.7 420.1 L838.0 409.5 L838.3 400.1 L838.6 391.2 L839.0 380.7 L839.3 372.4 L839.6 371.2 L839.9 382.1 L840.2 392.1 L840.5 403.5 L840.9 412.6 L841.2 421.3 L841.5 418.3 L841.8 410.9 L842.1 405.1 L842.4 403.4 L842.7 401.8 L843.1 398.3 L843.4 397.9 L843.7 399.6 L844.0 403.1 L844.3 405.7 L844.6 408.7 L845.0 411.6 L845.3 414.2 L845.6 416.4 L845.9 415.1 L846.2 414.9 L846.5 415.0 L846.8 421.1 L847.2 425.7 L847.5 427.5 L847.8 427.6 L848.1 428.6 L848.4 427.6 L848.7 424.4 L849.1 426.1 L849.4 431.3 L849.7 435.7 L850.0 438.1 L850.3 438.3 L850.6 438.9 L850.9 439.9 L851.3 442.6 L851.6 443.8 L851.9 444.9 L852.2 445.4 L852.5 447.0 L852.8 448.7 L853.2 451.6 L853.5 451.7 L853.8 452.1 L854.1 452.6 L854.4 452.3 L854.7 453.4 L855.0 453.6 L855.4 456.7 L855.7 460.4 L856.0 462.3 L856.3 464.7 L856.6 469.1 L856.9 468.6 L857.3 466.2 L857.6 462.1 L857.9 459.9 L858.2 457.3 L858.5 453.9 L858.8 448.6 L859.1 443.5 L859.5 436.8 L859.8 431.0 L860.1 425.8 L860.4 429.0 L860.7 434.6 L861.0 438.8 L861.4 438.8 L861.7 440.3 L862.0 441.6 L862.3 444.1 L862.6 448.1 L862.9 451.7 L863.2 455.2 L863.6 457.4 L863.9 455.4 L864.2 456.0 L864.5 457.9 L864.8 461.9 L865.1 464.7 L865.5 463.5 L865.8 462.8 L866.1 464.6 L866.4 470.5 L866.7 475.1 L867.0 476.4 L867.3 474.3 L867.7 473.0 L868.0 473.5 L868.3 474.5 L868.6 476.5 L868.9 476.1 L869.2 474.8 L869.6 471.5 L869.9 467.2 L870.2 463.6 L870.5 464.0 L870.8 463.7 L871.1 463.1 L871.4 460.6 L871.8 459.4 L872.1 457.5 L872.4 457.8 L872.7 455.3 L873.0 451.8 L873.3 447.5 L873.7 444.0 L874.0 445.8 L874.3 446.3 L874.6 447.2 L874.9 447.4 L875.2 447.1 L875.5 444.0 L875.9 440.8 L876.2 437.0 L876.5 435.2 L876.8 433.6 L877.1 433.0 L877.4 432.7 L877.8 432.3 L878.1 433.5 L878.4 437.0 L878.7 439.4 L879.0 445.3 L879.3 450.9 L879.6 455.0 L880.0 461.7 L880.3 469.1 L880.6 467.2 L880.9 464.0 L881.2 461.4 L881.5 457.9 L881.9 453.8 L882.2 450.3 L882.5 448.1 L882.8 444.4 L883.1 449.3 L883.4 455.8 L883.7 463.9 L884.1 465.2 L884.4 464.6 L884.7 463.1 L885.0 458.3 L885.3 453.7 L885.6 452.3 L886.0 451.3 L886.3 452.3 L886.6 451.2 L886.9 449.5 L887.2 446.2 L887.5 443.2 L887.8 438.7 L888.2 435.3 L888.5 427.6 L888.8 419.6 L889.1 416.0 L889.4 416.2 L889.7 414.5 L890.1 408.4 L890.4 400.6 L890.7 394.8 L891.0 391.9 L891.3 385.6 L891.6 379.7 L891.9 376.2 L892.3 370.6 L892.6 365.5 L892.9 357.1 L893.2 349.7 L893.5 342.5 L893.8 335.9 L894.2 338.6 L894.5 344.8 L894.8 351.2 L895.1 353.6 L895.4 355.1 L895.7 349.0 L896.0 347.4 L896.4 346.4 L896.7 343.3 L897.0 338.7 L897.3 344.6 L897.6 357.2 L897.9 368.7 L898.3 381.7 L898.6 384.3 L898.9 375.6 L899.2 366.4 L899.5 358.6 L899.8 350.4 L900.1 342.5 L900.5 336.8 L900.8 330.8 L901.1 322.7 L901.4 317.3 L901.7 311.4 L902.0 305.5 L902.4 307.9 L902.7 312.2 L903.0 318.8 L903.3 325.8 L903.6 328.1 L903.9 328.7 L904.2 324.5 L904.6 322.7 L904.9 320.0 L905.2 317.8 L905.5 321.2 L905.8 327.8 L906.1 333.5 L906.5 337.0 L906.8 342.4 L907.1 347.9 L907.4 352.7 L907.7 347.6 L908.0 341.5 L908.3 334.5 L908.7 333.3 L909.0 336.7 L909.3 346.3 L909.6 355.6 L909.9 362.2 L910.2 369.9 L910.6 371.6 L910.9 367.2 L911.2 361.6 L911.5 357.7 L911.8 353.5 L912.1 346.3 L912.4 340.1 L912.8 340.3 L913.1 342.4 L913.4 345.2 L913.7 347.3 L914.0 346.1 L914.3 347.8 L914.7 351.2 L915.0 356.4 L915.3 360.1 L915.6 363.3 L915.9 366.2 L916.2 366.4 L916.5 363.2 L916.9 360.4 L917.2 357.4 L917.5 353.5 L917.8 350.8 L918.1 345.4 L918.4 343.0 L918.8 342.7 L919.1 341.9 L919.4 341.4 L919.7 340.5 L920.0 338.5 L920.3 339.5 L920.6 344.2 L921.0 350.2 L921.3 356.0 L921.6 355.9 L921.9 356.2 L922.2 358.6 L922.5 361.9 L922.9 361.9 L923.2 358.7 L923.5 354.6 L923.8 350.1 L924.1 345.0 L924.4 339.6 L924.7 334.1 L925.1 331.1 L925.4 331.0 L925.7 328.7 L926.0 326.5 L926.3 324.0 L926.6 325.6 L927.0 325.7 L927.3 324.7 L927.6 321.4 L927.9 324.2 L928.2 326.1 L928.5 331.0 L928.8 334.8 L929.2 336.6 L929.5 338.3 L929.8 340.8 L930.1 346.5 L930.4 350.7 L930.7 355.4 L931.1 358.5 L931.4 362.1 L931.7 366.6 L932.0 367.2 L932.3 370.3 L932.6 371.9 L932.9 372.9 L933.3 375.6 L933.6 378.4 L933.9 381.6 L934.2 383.1 L934.5 385.8 L934.8 388.8 L935.2 389.8 L935.5 392.0 L935.8 394.1 L936.1 394.2 L936.4 395.1 L936.7 399.5 L937.0 402.8 L937.4 404.5 L937.7 399.2 L938.0 395.7 L938.3 391.1 L938.6 388.3 L938.9 387.5 L939.3 383.6 L939.6 380.8 L939.9 376.5 L940.2 372.3 L940.5 369.7 L940.8 365.2 L941.1 362.8 L941.5 360.9 L941.8 356.3 L942.1 347.6 L942.4 339.5 L942.7 341.4 L943.0 345.4 L943.4 349.0 L943.7 350.6 L944.0 352.6 L944.3 356.6 L944.6 360.3 L944.9 364.4 L945.2 371.2 L945.6 377.1 L945.9 384.1 L946.2 386.0 L946.5 386.5 L946.8 389.8 L947.1 393.3 L947.5 391.0 L947.8 379.3 L948.1 366.7 L948.4 354.5 L948.7 345.0 L949.0 339.5 L949.3 334.1 L949.7 328.1 L950.0 322.1 L950.3 314.2 L950.6 306.5 L950.9 296.1 L951.2 280.6 L951.6 266.6 L951.9 255.9 L952.2 247.4 L952.5 241.9 L952.8 243.0 L953.1 241.4 L953.4 240.5 L953.8 243.1 L954.1 260.2 L954.4 275.7 L954.7 271.8 L955.0 253.8 L955.3 236.0 L955.7 233.0 L956.0 230.3 L956.3 230.5 L956.6 233.0 L956.9 232.7 L957.2 225.5 L957.5 218.7 L957.9 213.1 L958.2 212.7 L958.5 217.0 L958.8 224.8 L959.1 230.6 L959.4 238.1 L959.8 245.6 L960.1 255.2 L960.4 264.0 L960.7 267.3 L961.0 266.2 L961.3 263.0 L961.6 257.7 L962.0 252.5 L962.3 252.4 L962.6 253.6 L962.9 255.0 L963.2 250.8 L963.5 246.6 L963.9 258.7 L964.2 290.7 L964.5 321.1 L964.8 307.3 L965.1 293.0 L965.4 287.5 L965.7 293.3 L966.1 299.7 L966.4 345.7 L966.7 363.2 L967.0 369.2 L967.3 371.4 L967.6 372.3 L968.0 373.4 L968.3 370.9 L968.6 370.2 L968.9 370.1 L969.2 376.2 L969.5 379.8 L969.8 383.0 L970.2 382.6 L970.5 384.2 L970.8 378.3 L971.1 372.3 L971.4 367.0 L971.7 364.1 L972.1 361.1 L972.4 359.1 L972.7 356.6 L973.0 354.4 L973.3 348.3 L973.6 342.4 L973.9 336.6 L974.3 335.8 L974.6 336.2 L974.9 334.5 L975.2 332.7 L975.5 330.7 L975.8 327.0 L976.2 322.8 L976.5 317.7 L976.8 318.0 L977.1 317.9 L977.4 317.0 L977.7 315.9 L978.0 313.6 L978.4 310.8 L978.7 308.0 L979.0 305.2 L979.3 307.5 L979.6 310.2 L979.9 313.3 L980.3 316.3 L980.6 320.2 L980.9 324.1 L981.2 326.7 L981.5 331.3 L981.8 332.5 L982.1 334.2 L982.5 335.5 L982.8 336.3 L983.1 335.9 L983.4 338.3 L983.7 339.2 L984.0 340.9 L984.4 344.5 L984.7 346.3 L985.0 348.4 L985.3 354.4 L985.6 359.8 L985.9 362.6 L986.2 361.8 L986.6 362.3 L986.9 367.2 L987.2 370.5 L987.5 374.5 L987.8 382.3 L988.1 388.2 L988.5 392.9 L988.8 388.2 L989.1 379.6 L989.4 371.8 L989.7 364.8 L990.0 357.0 L990.3 357.3 L990.7 357.5 L991.0 357.2 L991.3 353.3 L991.6 350.6 L991.9 354.5 L992.2 359.7 L992.6 364.8 L992.9 372.3 L993.2 378.6 L993.5 382.4 L993.8 387.2 L994.1 391.8 L994.4 396.7 L994.8 397.6 L995.1 399.5 L995.4 402.3 L995.7 405.0 L996.0 409.5 L996.3 411.9 L996.7 415.3 L997.0 415.7 L997.3 413.9 L997.6 413.1 L997.9 408.7 L998.2 404.1 L998.5 399.2 L998.9 401.9 L999.2 404.7 L999.5 410.1 L999.8 413.0 L1000.1 414.8 L1000.4 418.2 L1000.8 421.9 L1001.1 417.6 L1001.4 414.7 L1001.7 408.9 L1002.0 405.6 L1002.3 400.9 L1002.6 403.0 L1003.0 407.3 L1003.3 410.6 L1003.6 413.4 L1003.9 417.4 L1004.2 421.5 L1004.5 425.7 L1004.9 420.8 L1005.2 416.0 L1005.5 410.3 L1005.8 403.1 L1006.1 396.3 L1006.4 391.2 L1006.7 397.7 L1007.1 404.2 L1007.4 406.5 L1007.7 409.3 L1008.0 412.6 L1008.3 416.1 L1008.6 421.3 L1009.0 425.3 L1009.3 431.4 L1009.6 436.6 L1009.9 437.4 L1010.2 436.9 L1010.5 437.0 L1010.8 437.4 L1011.2 440.1 L1011.5 438.6 L1011.8 437.3 L1012.1 433.6 L1012.4 432.4 L1012.7 431.1 L1013.1 430.9 L1013.4 429.9 L1013.7 430.0 L1014.0 428.6 L1014.3 427.0 L1014.6 424.8 L1014.9 425.7 L1015.3 431.5 L1015.6 437.1 L1015.9 441.4 L1016.2 443.5 L1016.5 438.6 L1016.8 435.6 L1017.2 433.0 L1017.5 429.0 L1017.8 424.1 L1018.1 420.8 L1018.4 416.9 L1018.7 415.2 L1019.0 412.1 L1019.4 412.9 L1019.7 415.2 L1020.0 418.3 L1020.3 422.3 L1020.6 427.7 L1020.9 432.1 L1021.3 431.5 L1021.6 428.9 L1021.9 426.2 L1022.2 425.6 L1022.5 421.2 L1022.8 417.7 L1023.1 412.5 L1023.5 413.0 L1023.8 415.5 L1024.1 419.0 L1024.4 420.0 L1024.7 420.8 L1025.0 422.8 L1025.4 424.4 L1025.7 421.8 L1026.0 420.4 L1026.3 420.2 L1026.6 418.4 L1026.9 414.1 L1027.2 410.8 L1027.6 412.4 L1027.9 421.2 L1028.2 431.6 L1028.5 428.7 L1028.8 426.8 L1029.1 424.0 L1029.5 422.7 L1029.8 421.4 L1030.1 419.4 L1030.4 416.3 L1030.7 412.3 L1031.0 409.6 L1031.3 405.9 L1031.7 407.1 L1032.0 413.8 L1032.3 419.6 L1032.6 424.8 L1032.9 416.0 L1033.2 406.6 L1033.6 398.5 L1033.9 391.8 L1034.2 394.7 L1034.5 399.6 L1034.8 402.3 L1035.1 405.7 L1035.4 407.9 L1035.8 404.5 L1036.1 401.5 L1036.4 401.1 L1036.7 398.2 L1037.0 397.5 L1037.3 395.2 L1037.7 393.6 L1038.0 392.2 L1038.3 391.9 L1038.6 395.9 L1038.9 397.2 L1039.2 399.3 L1039.5 404.6 L1039.9 410.3 L1040.2 412.8 L1040.5 409.6 L1040.8 407.0 L1041.1 403.9 L1041.4 404.8 L1041.8 405.6 L1042.1 403.6 L1042.4 400.2 L1042.7 398.3 L1043.0 395.2 L1043.3 394.6 L1043.6 396.7 L1044.0 409.9 L1044.3 421.8 L1044.6 423.5 L1044.9 421.2 L1045.2 417.9 L1045.5 417.6 L1045.9 416.2 L1046.2 415.7 L1046.5 414.8 L1046.8 415.4 L1047.1 417.6 L1047.4 420.0 L1047.7 422.6 L1048.1 425.0 L1048.4 429.8 L1048.7 434.4 L1049.0 439.8 L1049.3 442.8 L1049.6 443.2 L1050.0 445.6 L1050.3 448.0 L1050.6 447.3 L1050.9 447.3 L1051.2 444.5 L1051.5 445.6 L1051.8 447.2 L1052.2 450.2 L1052.5 452.4 L1052.8 455.4 L1053.1 456.9 L1053.4 458.2 L1053.7 460.1 L1054.1 460.1 L1054.4 459.7 L1054.7 459.5" fill="none" stroke="#EE0000" stroke-width="3.0" stroke-linejoin="round"/>
<text transform="translate(131.25 32.80) scale(0.9434 1.0000)" font-size="21.20" fill="#000" stroke="#000" font-family="Liberation Sans, Arial, sans-serif" font-weight="bold" stroke-width="0.3" stroke-linejoin="round" >Rising</text>
<text transform="translate(198.49 32.80) scale(0.9141 1.0000)" font-size="21.20" fill="#000" stroke="#000" font-family="Liberation Sans, Arial, sans-serif" font-weight="bold" stroke-width="0.3" stroke-linejoin="round" >US</text>
<text transform="translate(231.79 32.80) scale(1.0506 1.0000)" font-size="21.20" fill="#000" stroke="#000" font-family="Liberation Sans, Arial, sans-serif" font-weight="bold" stroke-width="0.3" stroke-linejoin="round" >Natural</text>
<text transform="translate(314.34 32.80) scale(0.9564 1.0000)" font-size="21.20" fill="#000" stroke="#000" font-family="Liberation Sans, Arial, sans-serif" font-weight="bold" stroke-width="0.3" stroke-linejoin="round" >Gas</text>
<text transform="translate(357.82 32.80) scale(1.0313 1.0000)" font-size="21.20" fill="#000" stroke="#000" font-family="Liberation Sans, Arial, sans-serif" font-weight="bold" stroke-width="0.3" stroke-linejoin="round" >Demand</text>
<text transform="translate(450.50 32.80) scale(0.9742 1.0000)" font-size="21.20" fill="#000" stroke="#000" font-family="Liberation Sans, Arial, sans-serif" font-weight="bold" stroke-width="0.3" stroke-linejoin="round" >For</text>
<text transform="translate(488.88 32.80) scale(0.9916 1.0000)" font-size="21.20" fill="#000" stroke="#000" font-family="Liberation Sans, Arial, sans-serif" font-weight="bold" stroke-width="0.3" stroke-linejoin="round" >Electricity</text>
<text transform="translate(596.37 32.80) scale(0.9285 1.0000)" font-size="21.20" fill="#000" stroke="#000" font-family="Liberation Sans, Arial, sans-serif" font-weight="bold" stroke-width="0.3" stroke-linejoin="round" >Favors</text>
<text transform="translate(666.49 32.80) scale(1.0363 1.0000)" font-size="21.20" fill="#000" stroke="#000" font-family="Liberation Sans, Arial, sans-serif" font-weight="bold" stroke-width="0.3" stroke-linejoin="round" >A</text>
<text transform="translate(687.82 32.80) scale(0.9846 1.0000)" font-size="21.20" fill="#000" stroke="#000" font-family="Liberation Sans, Arial, sans-serif" font-weight="bold" stroke-width="0.3" stroke-linejoin="round" >Compressed</text>
<text transform="translate(929.93 32.80) scale(1.0263 1.0000)" font-size="21.20" fill="#000" stroke="#000" font-family="Liberation Sans, Arial, sans-serif" font-weight="bold" stroke-width="0.3" stroke-linejoin="round" >Ratio</text>
<text y="32.8" font-size="21.20" fill="#000" stroke="#000" font-family="Liberation Sans, Arial, sans-serif" font-weight="bold" stroke-width="0.3" stroke-linejoin="round"><tspan x="820.26" textLength="65.25" lengthAdjust="spacingAndGlyphs">Oil-to-</tspan><tspan x="886.77" textLength="36.97" lengthAdjust="spacingAndGlyphs">Gas</tspan></text>
<text transform="translate(7.68 66.70) scale(1.0900 1)" font-size="17.50" fill="#000" stroke="#000" font-family="Liberation Sans, Arial, sans-serif" font-weight="bold" stroke-width="0.3" stroke-linejoin="round" >60000000</text>
<text transform="translate(7.68 144.20) scale(1.0900 1)" font-size="17.50" fill="#000" stroke="#000" font-family="Liberation Sans, Arial, sans-serif" font-weight="bold" stroke-width="0.3" stroke-linejoin="round" >50000000</text>
<text transform="translate(7.68 222.20) scale(1.0900 1)" font-size="17.50" fill="#000" stroke="#000" font-family="Liberation Sans, Arial, sans-serif" font-weight="bold" stroke-width="0.3" stroke-linejoin="round" >40000000</text>
<text transform="translate(7.68 300.20) scale(1.0900 1)" font-size="17.50" fill="#000" stroke="#000" font-family="Liberation Sans, Arial, sans-serif" font-weight="bold" stroke-width="0.3" stroke-linejoin="round" >30000000</text>
<text transform="translate(7.68 378.20) scale(1.0900 1)" font-size="17.50" fill="#000" stroke="#000" font-family="Liberation Sans, Arial, sans-serif" font-weight="bold" stroke-width="0.3" stroke-linejoin="round" >20000000</text>
<text transform="translate(7.68 456.20) scale(1.0900 1)" font-size="17.50" fill="#000" stroke="#000" font-family="Liberation Sans, Arial, sans-serif" font-weight="bold" stroke-width="0.3" stroke-linejoin="round" >10000000</text>
<text transform="translate(81.57 534.20) scale(1.0900 1)" font-size="17.50" fill="#000" stroke="#000" font-family="Liberation Sans, Arial, sans-serif" font-weight="bold" stroke-width="0.3" stroke-linejoin="round" >0</text>
<text transform="translate(1074.08 534.70) scale(1.0300 1)" font-size="17.50" fill="#F00000" stroke="#F00000" font-family="Liberation Sans, Arial, sans-serif" font-weight="bold" stroke-width="0.3" stroke-linejoin="round" >0x</text>
<text transform="translate(1073.72 479.70) scale(1.0300 1)" font-size="17.50" fill="#F00000" stroke="#F00000" font-family="Liberation Sans, Arial, sans-serif" font-weight="bold" stroke-width="0.3" stroke-linejoin="round" >10x</text>
<text transform="translate(1074.26 424.70) scale(1.0300 1)" font-size="17.50" fill="#F00000" stroke="#F00000" font-family="Liberation Sans, Arial, sans-serif" font-weight="bold" stroke-width="0.3" stroke-linejoin="round" >20x</text>
<text transform="translate(1074.44 369.70) scale(1.0300 1)" font-size="17.50" fill="#F00000" stroke="#F00000" font-family="Liberation Sans, Arial, sans-serif" font-weight="bold" stroke-width="0.3" stroke-linejoin="round" >30x</text>
<text transform="translate(1074.44 314.70) scale(1.0300 1)" font-size="17.50" fill="#F00000" stroke="#F00000" font-family="Liberation Sans, Arial, sans-serif" font-weight="bold" stroke-width="0.3" stroke-linejoin="round" >40x</text>
<text transform="translate(1074.26 259.70) scale(1.0300 1)" font-size="17.50" fill="#F00000" stroke="#F00000" font-family="Liberation Sans, Arial, sans-serif" font-weight="bold" stroke-width="0.3" stroke-linejoin="round" >50x</text>
<text transform="translate(1074.08 204.70) scale(1.0300 1)" font-size="17.50" fill="#F00000" stroke="#F00000" font-family="Liberation Sans, Arial, sans-serif" font-weight="bold" stroke-width="0.3" stroke-linejoin="round" >60x</text>
<text transform="translate(1074.08 149.70) scale(1.0300 1)" font-size="17.50" fill="#F00000" stroke="#F00000" font-family="Liberation Sans, Arial, sans-serif" font-weight="bold" stroke-width="0.3" stroke-linejoin="round" >70x</text>
<text transform="translate(1074.26 94.70) scale(1.0300 1)" font-size="17.50" fill="#F00000" stroke="#F00000" font-family="Liberation Sans, Arial, sans-serif" font-weight="bold" stroke-width="0.3" stroke-linejoin="round" >80x</text>
<text transform="translate(91.05 560.60) scale(1.0540 1)" font-size="17.50" fill="#000" stroke="#000" font-family="Liberation Sans, Arial, sans-serif" font-weight="bold" stroke-width="0.3" stroke-linejoin="round" >2014</text>
<text transform="translate(173.30 560.60) scale(1.0540 1)" font-size="17.50" fill="#000" stroke="#000" font-family="Liberation Sans, Arial, sans-serif" font-weight="bold" stroke-width="0.3" stroke-linejoin="round" >2015</text>
<text transform="translate(255.47 560.60) scale(1.0540 1)" font-size="17.50" fill="#000" stroke="#000" font-family="Liberation Sans, Arial, sans-serif" font-weight="bold" stroke-width="0.3" stroke-linejoin="round" >2016</text>
<text transform="translate(337.63 560.60) scale(1.0540 1)" font-size="17.50" fill="#000" stroke="#000" font-family="Liberation Sans, Arial, sans-serif" font-weight="bold" stroke-width="0.3" stroke-linejoin="round" >2017</text>
<text transform="translate(419.61 560.60) scale(1.0540 1)" font-size="17.50" fill="#000" stroke="#000" font-family="Liberation Sans, Arial, sans-serif" font-weight="bold" stroke-width="0.3" stroke-linejoin="round" >2018</text>
<text transform="translate(501.68 560.60) scale(1.0540 1)" font-size="17.50" fill="#000" stroke="#000" font-family="Liberation Sans, Arial, sans-serif" font-weight="bold" stroke-width="0.3" stroke-linejoin="round" >2019</text>
<text transform="translate(583.84 560.60) scale(1.0540 1)" font-size="17.50" fill="#000" stroke="#000" font-family="Liberation Sans, Arial, sans-serif" font-weight="bold" stroke-width="0.3" stroke-linejoin="round" >2020</text>
<text transform="translate(665.72 560.60) scale(1.0540 1)" font-size="17.50" fill="#000" stroke="#000" font-family="Liberation Sans, Arial, sans-serif" font-weight="bold" stroke-width="0.3" stroke-linejoin="round" >2021</text>
<text transform="translate(747.98 560.60) scale(1.0540 1)" font-size="17.50" fill="#000" stroke="#000" font-family="Liberation Sans, Arial, sans-serif" font-weight="bold" stroke-width="0.3" stroke-linejoin="round" >2022</text>
<text transform="translate(829.96 560.60) scale(1.0540 1)" font-size="17.50" fill="#000" stroke="#000" font-family="Liberation Sans, Arial, sans-serif" font-weight="bold" stroke-width="0.3" stroke-linejoin="round" >2023</text>
<text transform="translate(911.75 560.60) scale(1.0540 1)" font-size="17.50" fill="#000" stroke="#000" font-family="Liberation Sans, Arial, sans-serif" font-weight="bold" stroke-width="0.3" stroke-linejoin="round" >2024</text>
<text transform="translate(994.00 560.60) scale(1.0540 1)" font-size="17.50" fill="#000" stroke="#000" font-family="Liberation Sans, Arial, sans-serif" font-weight="bold" stroke-width="0.3" stroke-linejoin="round" >2025</text>
<line x1="224.9" x2="249.2" y1="590.9" y2="590.9" stroke="#0a0a0a" stroke-width="2.2" stroke-linecap="round"/>
<line x1="224.6" x2="248.8" y1="623.0" y2="623.0" stroke="#EE0000" stroke-width="3.1" stroke-linecap="round"/>
<text transform="translate(252.26 597.00) scale(0.9391 0.9700)" font-size="17.50" fill="#000" stroke="#000" font-family="Liberation Sans, Arial, sans-serif" font-weight="bold" stroke-width="0.3" stroke-linejoin="round" >US</text>
<text transform="translate(280.47 597.00) scale(0.9630 0.9700)" font-size="17.50" fill="#000" stroke="#000" font-family="Liberation Sans, Arial, sans-serif" font-weight="bold" stroke-width="0.3" stroke-linejoin="round" >Lower</text>
<text transform="translate(337.69 597.00) scale(1.0404 0.9700)" font-size="17.50" fill="#000" stroke="#000" font-family="Liberation Sans, Arial, sans-serif" font-weight="bold" stroke-width="0.3" stroke-linejoin="round" >48</text>
<text transform="translate(363.03 597.00) scale(1.0771 0.9700)" font-size="17.50" fill="#000" stroke="#000" font-family="Liberation Sans, Arial, sans-serif" font-weight="bold" stroke-width="0.3" stroke-linejoin="round" >Natural</text>
<text transform="translate(432.89 597.00) scale(0.9440 0.9700)" font-size="17.50" fill="#000" stroke="#000" font-family="Liberation Sans, Arial, sans-serif" font-weight="bold" stroke-width="0.3" stroke-linejoin="round" >Gas</text>
<text transform="translate(469.19 597.00) scale(1.0296 0.9700)" font-size="17.50" fill="#000" stroke="#000" font-family="Liberation Sans, Arial, sans-serif" font-weight="bold" stroke-width="0.3" stroke-linejoin="round" >Estimated</text>
<text transform="translate(559.87 597.00) scale(1.0484 0.9700)" font-size="17.50" fill="#000" stroke="#000" font-family="Liberation Sans, Arial, sans-serif" font-weight="bold" stroke-width="0.3" stroke-linejoin="round" >Demand</text>
<text transform="translate(636.53 597.00) scale(0.9935 0.9700)" font-size="17.50" fill="#000" stroke="#000" font-family="Liberation Sans, Arial, sans-serif" font-weight="bold" stroke-width="0.3" stroke-linejoin="round" >For</text>
<text transform="translate(669.91 597.00) scale(1.0137 0.9700)" font-size="17.50" fill="#000" stroke="#000" font-family="Liberation Sans, Arial, sans-serif" font-weight="bold" stroke-width="0.3" stroke-linejoin="round" >Power</text>
<text transform="translate(729.52 597.00) scale(1.0491 0.9700)" font-size="17.50" fill="#000" stroke="#000" font-family="Liberation Sans, Arial, sans-serif" font-weight="bold" stroke-width="0.3" stroke-linejoin="round" >Generation</text>
<text transform="translate(831.07 597.00) scale(1.1200 0.9700)" font-size="17.50" fill="#000" stroke="#000" font-family="Liberation Sans, Arial, sans-serif" font-weight="bold" stroke-width="0.3" stroke-linejoin="round" >-</text>
<text transform="translate(841.90 597.00) scale(1.1799 0.9700)" font-size="17.50" fill="#000" stroke="#000" font-family="Liberation Sans, Arial, sans-serif" font-weight="bold" stroke-width="0.3" stroke-linejoin="round" >Mcf/d</text>
<text transform="translate(252.85 629.45) scale(1.0589 0.9550)" font-size="17.50" fill="#F00000" stroke="#F00000" font-family="Liberation Sans, Arial, sans-serif" font-weight="bold" stroke-width="0.3" stroke-linejoin="round" >WTI</text>
<text transform="translate(291.66 629.45) scale(0.9802 0.9550)" font-size="17.50" fill="#F00000" stroke="#F00000" font-family="Liberation Sans, Arial, sans-serif" font-weight="bold" stroke-width="0.3" stroke-linejoin="round" >Crude</text>
<text transform="translate(346.70 629.45) scale(1.0853 0.9550)" font-size="17.50" fill="#F00000" stroke="#F00000" font-family="Liberation Sans, Arial, sans-serif" font-weight="bold" stroke-width="0.3" stroke-linejoin="round" >(US$/bbl)/US</text>
<text transform="translate(466.65 629.45) scale(1.0649 0.9550)" font-size="17.50" fill="#F00000" stroke="#F00000" font-family="Liberation Sans, Arial, sans-serif" font-weight="bold" stroke-width="0.3" stroke-linejoin="round" >Natural</text>
<text transform="translate(535.68 629.45) scale(0.9503 0.9550)" font-size="17.50" fill="#F00000" stroke="#F00000" font-family="Liberation Sans, Arial, sans-serif" font-weight="bold" stroke-width="0.3" stroke-linejoin="round" >Gas</text>
<text transform="translate(572.00 629.45) scale(1.0840 0.9550)" font-size="17.50" fill="#F00000" stroke="#F00000" font-family="Liberation Sans, Arial, sans-serif" font-weight="bold" stroke-width="0.3" stroke-linejoin="round" >(US$/mmbtu)</text>
<text transform="translate(695.38 629.45) scale(1.0971 0.9550)" font-size="17.50" fill="#F00000" stroke="#F00000" font-family="Liberation Sans, Arial, sans-serif" font-weight="bold" stroke-width="0.3" stroke-linejoin="round" >-</text>
<text transform="translate(706.26 629.45) scale(0.9695 0.9550)" font-size="17.50" fill="#F00000" stroke="#F00000" font-family="Liberation Sans, Arial, sans-serif" font-weight="bold" stroke-width="0.3" stroke-linejoin="round" >Price</text>
<text transform="translate(753.19 629.45) scale(1.0281 0.9550)" font-size="17.50" fill="#F00000" stroke="#F00000" font-family="Liberation Sans, Arial, sans-serif" font-weight="bold" stroke-width="0.3" stroke-linejoin="round" >Ratio</text>
<text transform="translate(1027.06 636.60) scale(0.9729 1.0000)" font-size="20.30" fill="#7F6000" stroke="#7F6000" font-family="Liberation Sans, Arial, sans-serif" font-weight="bold" stroke-width="0.3" stroke-linejoin="round" font-style="italic">C-MACC</text>
</svg>
</body></html>
